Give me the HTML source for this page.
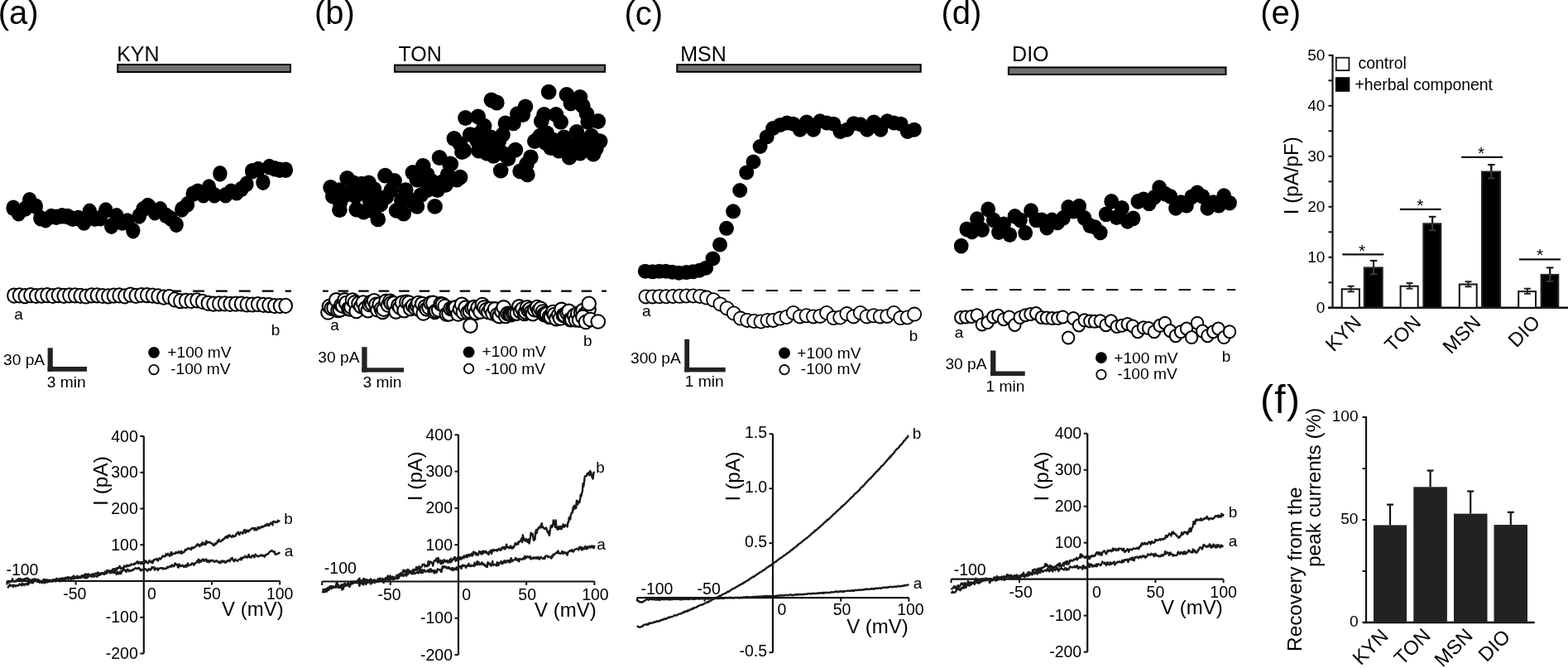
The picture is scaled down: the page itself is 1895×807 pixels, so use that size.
<!DOCTYPE html>
<html><head><meta charset="utf-8"><title>Figure</title>
<style>html,body{margin:0;padding:0;background:#fff;overflow:hidden}svg{display:block}</style>
</head><body>
<svg width="1895" height="807" viewBox="0 0 1895 807" style="font-family:'Liberation Sans',Arial,sans-serif">
<rect width="1895" height="807" fill="#fff"/>
<g fill="#000">
<text x="-2.3" y="29.0" font-size="40" text-anchor="start">(a)</text>
<text x="380.0" y="29.0" font-size="40" text-anchor="start">(b)</text>
<text x="754.5" y="29.5" font-size="40" text-anchor="start">(c)</text>
<text x="1137.5" y="29.0" font-size="40" text-anchor="start">(d)</text>
<text x="1523.3" y="29.0" font-size="40" text-anchor="start">(e)</text>
<text x="1523.0" y="498.7" font-size="48" text-anchor="start" letter-spacing="1.3">(f)</text>
<rect x="142.3" y="78.0" width="208.7" height="9.0" fill="#707070" stroke="#000" stroke-width="2"/>
<text x="141.2" y="73.8" font-size="25" text-anchor="start">KYN</text>
<rect x="477.0" y="78.6" width="254.0" height="8.2" fill="#707070" stroke="#000" stroke-width="2"/>
<text x="481.5" y="74.0" font-size="25" text-anchor="start">TON</text>
<rect x="818.3" y="78.1" width="294.4" height="8.7" fill="#707070" stroke="#000" stroke-width="2"/>
<text x="822.2" y="74.1" font-size="25" text-anchor="start">MSN</text>
<rect x="1218.9" y="81.4" width="262.6" height="8.6" fill="#707070" stroke="#000" stroke-width="2"/>
<text x="1223.1" y="74.1" font-size="25" text-anchor="start">DIO</text>
<line x1="9.8" y1="351.6" x2="352.0" y2="351.6" stroke="#000" stroke-width="2.2" stroke-dasharray="13.9,14.0" stroke-dashoffset="0"/>
<line x1="390.0" y1="351.7" x2="733.0" y2="351.7" stroke="#000" stroke-width="2.2" stroke-dasharray="12.5,12.0" stroke-dashoffset="5.8"/>
<line x1="780.6" y1="351.0" x2="1112.0" y2="351.0" stroke="#000" stroke-width="2.2" stroke-dasharray="14.4,14.6" stroke-dashoffset="0"/>
<line x1="1161.7" y1="350.0" x2="1493.2" y2="350.0" stroke="#000" stroke-width="2.2" stroke-dasharray="14.5,14.7" stroke-dashoffset="0"/>
<g fill="#000"><ellipse cx="16.1" cy="251.3" rx="8.7" ry="9.8"/><ellipse cx="22.5" cy="257.7" rx="8.7" ry="9.8"/><ellipse cx="30.7" cy="252.0" rx="8.7" ry="9.8"/><ellipse cx="35.7" cy="241.8" rx="8.7" ry="9.8"/><ellipse cx="43.3" cy="249.3" rx="8.7" ry="9.8"/><ellipse cx="48.8" cy="263.6" rx="8.7" ry="9.8"/><ellipse cx="55.2" cy="265.6" rx="8.7" ry="9.8"/><ellipse cx="62.0" cy="261.5" rx="8.7" ry="9.8"/><ellipse cx="68.1" cy="262.2" rx="8.7" ry="9.8"/><ellipse cx="74.9" cy="260.9" rx="8.7" ry="9.8"/><ellipse cx="81.8" cy="261.5" rx="8.7" ry="9.8"/><ellipse cx="87.9" cy="264.3" rx="8.7" ry="9.8"/><ellipse cx="94.7" cy="263.6" rx="8.7" ry="9.8"/><ellipse cx="101.5" cy="269.0" rx="8.7" ry="9.8"/><ellipse cx="108.3" cy="255.4" rx="8.7" ry="9.8"/><ellipse cx="114.5" cy="264.3" rx="8.7" ry="9.8"/><ellipse cx="121.3" cy="263.6" rx="8.7" ry="9.8"/><ellipse cx="127.8" cy="254.0" rx="8.7" ry="9.8"/><ellipse cx="134.6" cy="273.1" rx="8.7" ry="9.8"/><ellipse cx="141.0" cy="260.9" rx="8.7" ry="9.8"/><ellipse cx="147.8" cy="269.0" rx="8.7" ry="9.8"/><ellipse cx="154.0" cy="267.0" rx="8.7" ry="9.8"/><ellipse cx="160.8" cy="278.6" rx="8.7" ry="9.8"/><ellipse cx="168.3" cy="260.9" rx="8.7" ry="9.8"/><ellipse cx="173.0" cy="252.7" rx="8.7" ry="9.8"/><ellipse cx="178.5" cy="248.6" rx="8.7" ry="9.8"/><ellipse cx="180.4" cy="249.9" rx="8.7" ry="9.8"/><ellipse cx="187.1" cy="256.6" rx="8.7" ry="9.8"/><ellipse cx="193.8" cy="252.9" rx="8.7" ry="9.8"/><ellipse cx="200.5" cy="260.3" rx="8.7" ry="9.8"/><ellipse cx="206.4" cy="264.0" rx="8.7" ry="9.8"/><ellipse cx="213.1" cy="271.4" rx="8.7" ry="9.8"/><ellipse cx="219.8" cy="252.9" rx="8.7" ry="9.8"/><ellipse cx="226.5" cy="246.9" rx="8.7" ry="9.8"/><ellipse cx="233.2" cy="234.3" rx="8.7" ry="9.8"/><ellipse cx="239.1" cy="231.3" rx="8.7" ry="9.8"/><ellipse cx="245.8" cy="235.8" rx="8.7" ry="9.8"/><ellipse cx="252.5" cy="226.1" rx="8.7" ry="9.8"/><ellipse cx="259.2" cy="235.8" rx="8.7" ry="9.8"/><ellipse cx="265.9" cy="209.7" rx="8.7" ry="9.8"/><ellipse cx="272.6" cy="235.8" rx="8.7" ry="9.8"/><ellipse cx="279.3" cy="231.3" rx="8.7" ry="9.8"/><ellipse cx="286.0" cy="232.8" rx="8.7" ry="9.8"/><ellipse cx="291.9" cy="228.3" rx="8.7" ry="9.8"/><ellipse cx="297.9" cy="222.4" rx="8.7" ry="9.8"/><ellipse cx="304.6" cy="206.8" rx="8.7" ry="9.8"/><ellipse cx="312.0" cy="204.5" rx="8.7" ry="9.8"/><ellipse cx="317.9" cy="220.1" rx="8.7" ry="9.8"/><ellipse cx="325.4" cy="201.6" rx="8.7" ry="9.8"/><ellipse cx="332.1" cy="203.8" rx="8.7" ry="9.8"/><ellipse cx="338.0" cy="205.3" rx="8.7" ry="9.8"/><ellipse cx="345.4" cy="205.3" rx="8.7" ry="9.8"/></g>
<g fill="#000"><ellipse cx="399.6" cy="226.5" rx="9.3" ry="9.4"/><ellipse cx="419.6" cy="215.3" rx="9.3" ry="9.4"/><ellipse cx="410.4" cy="253.7" rx="9.3" ry="9.4"/><ellipse cx="402.3" cy="237.0" rx="9.3" ry="9.4"/><ellipse cx="437.0" cy="222.1" rx="9.3" ry="9.4"/><ellipse cx="445.7" cy="220.9" rx="9.3" ry="9.4"/><ellipse cx="451.9" cy="228.3" rx="9.3" ry="9.4"/><ellipse cx="430.8" cy="253.1" rx="9.3" ry="9.4"/><ellipse cx="439.5" cy="256.2" rx="9.3" ry="9.4"/><ellipse cx="456.8" cy="264.9" rx="9.3" ry="9.4"/><ellipse cx="465.5" cy="212.2" rx="9.3" ry="9.4"/><ellipse cx="476.6" cy="218.4" rx="9.3" ry="9.4"/><ellipse cx="459.9" cy="246.9" rx="9.3" ry="9.4"/><ellipse cx="472.9" cy="229.6" rx="9.3" ry="9.4"/><ellipse cx="479.1" cy="254.3" rx="9.3" ry="9.4"/><ellipse cx="487.8" cy="258.0" rx="9.3" ry="9.4"/><ellipse cx="490.3" cy="229.6" rx="9.3" ry="9.4"/><ellipse cx="498.9" cy="208.5" rx="9.3" ry="9.4"/><ellipse cx="511.3" cy="200.4" rx="9.3" ry="9.4"/><ellipse cx="503.9" cy="249.4" rx="9.3" ry="9.4"/><ellipse cx="508.8" cy="235.7" rx="9.3" ry="9.4"/><ellipse cx="525.6" cy="249.4" rx="9.3" ry="9.4"/><ellipse cx="521.2" cy="218.4" rx="9.3" ry="9.4"/><ellipse cx="531.1" cy="190.5" rx="9.3" ry="9.4"/><ellipse cx="543.5" cy="198.0" rx="9.3" ry="9.4"/><ellipse cx="534.9" cy="219.6" rx="9.3" ry="9.4"/><ellipse cx="538.6" cy="223.4" rx="9.3" ry="9.4"/><ellipse cx="552.2" cy="217.2" rx="9.3" ry="9.4"/><ellipse cx="528.7" cy="229.6" rx="9.3" ry="9.4"/><ellipse cx="558.4" cy="183.7" rx="9.3" ry="9.4"/><ellipse cx="417.2" cy="235.7" rx="9.3" ry="9.4"/><ellipse cx="411.0" cy="244.4" rx="9.3" ry="9.4"/><ellipse cx="429.6" cy="237.0" rx="9.3" ry="9.4"/><ellipse cx="446.9" cy="241.9" rx="9.3" ry="9.4"/><ellipse cx="449.4" cy="254.3" rx="9.3" ry="9.4"/><ellipse cx="466.7" cy="238.2" rx="9.3" ry="9.4"/><ellipse cx="496.5" cy="241.9" rx="9.3" ry="9.4"/><ellipse cx="516.3" cy="229.6" rx="9.3" ry="9.4"/><ellipse cx="485.3" cy="241.9" rx="9.3" ry="9.4"/><ellipse cx="593.9" cy="120.8" rx="9.3" ry="9.4"/><ellipse cx="600.4" cy="124.0" rx="9.3" ry="9.4"/><ellipse cx="663.2" cy="111.1" rx="9.3" ry="9.4"/><ellipse cx="684.9" cy="114.3" rx="9.3" ry="9.4"/><ellipse cx="701.0" cy="117.5" rx="9.3" ry="9.4"/><ellipse cx="689.8" cy="124.8" rx="9.3" ry="9.4"/><ellipse cx="704.3" cy="128.0" rx="9.3" ry="9.4"/><ellipse cx="709.1" cy="137.7" rx="9.3" ry="9.4"/><ellipse cx="722.8" cy="146.5" rx="9.3" ry="9.4"/><ellipse cx="710.7" cy="147.3" rx="9.3" ry="9.4"/><ellipse cx="635.0" cy="128.8" rx="9.3" ry="9.4"/><ellipse cx="625.3" cy="137.7" rx="9.3" ry="9.4"/><ellipse cx="631.8" cy="138.5" rx="9.3" ry="9.4"/><ellipse cx="620.5" cy="148.9" rx="9.3" ry="9.4"/><ellipse cx="610.9" cy="148.9" rx="9.3" ry="9.4"/><ellipse cx="607.6" cy="162.6" rx="9.3" ry="9.4"/><ellipse cx="562.5" cy="142.5" rx="9.3" ry="9.4"/><ellipse cx="577.8" cy="140.9" rx="9.3" ry="9.4"/><ellipse cx="585.1" cy="152.2" rx="9.3" ry="9.4"/><ellipse cx="568.2" cy="162.6" rx="9.3" ry="9.4"/><ellipse cx="548.9" cy="167.5" rx="9.3" ry="9.4"/><ellipse cx="560.9" cy="182.0" rx="9.3" ry="9.4"/><ellipse cx="577.0" cy="170.7" rx="9.3" ry="9.4"/><ellipse cx="589.9" cy="173.9" rx="9.3" ry="9.4"/><ellipse cx="601.2" cy="178.7" rx="9.3" ry="9.4"/><ellipse cx="596.4" cy="188.4" rx="9.3" ry="9.4"/><ellipse cx="605.2" cy="206.1" rx="9.3" ry="9.4"/><ellipse cx="614.1" cy="191.6" rx="9.3" ry="9.4"/><ellipse cx="622.9" cy="181.2" rx="9.3" ry="9.4"/><ellipse cx="641.4" cy="190.0" rx="9.3" ry="9.4"/><ellipse cx="628.6" cy="206.9" rx="9.3" ry="9.4"/><ellipse cx="637.4" cy="210.9" rx="9.3" ry="9.4"/><ellipse cx="646.3" cy="170.7" rx="9.3" ry="9.4"/><ellipse cx="657.6" cy="138.5" rx="9.3" ry="9.4"/><ellipse cx="654.3" cy="146.5" rx="9.3" ry="9.4"/><ellipse cx="672.0" cy="138.5" rx="9.3" ry="9.4"/><ellipse cx="677.7" cy="147.3" rx="9.3" ry="9.4"/><ellipse cx="660.8" cy="161.0" rx="9.3" ry="9.4"/><ellipse cx="659.2" cy="172.3" rx="9.3" ry="9.4"/><ellipse cx="668.8" cy="169.1" rx="9.3" ry="9.4"/><ellipse cx="675.3" cy="182.0" rx="9.3" ry="9.4"/><ellipse cx="688.1" cy="190.0" rx="9.3" ry="9.4"/><ellipse cx="681.7" cy="165.9" rx="9.3" ry="9.4"/><ellipse cx="697.0" cy="159.4" rx="9.3" ry="9.4"/><ellipse cx="694.6" cy="175.5" rx="9.3" ry="9.4"/><ellipse cx="705.9" cy="180.3" rx="9.3" ry="9.4"/><ellipse cx="714.7" cy="164.2" rx="9.3" ry="9.4"/><ellipse cx="717.1" cy="186.0" rx="9.3" ry="9.4"/><ellipse cx="720.4" cy="179.5" rx="9.3" ry="9.4"/><ellipse cx="544.8" cy="198.1" rx="9.3" ry="9.4"/><ellipse cx="556.1" cy="214.2" rx="9.3" ry="9.4"/><ellipse cx="556.1" cy="173.9" rx="9.3" ry="9.4"/><ellipse cx="580.3" cy="161.0" rx="9.3" ry="9.4"/><ellipse cx="593.1" cy="165.9" rx="9.3" ry="9.4"/><ellipse cx="578.6" cy="182.0" rx="9.3" ry="9.4"/><ellipse cx="588.3" cy="185.2" rx="9.3" ry="9.4"/><ellipse cx="607.6" cy="185.2" rx="9.3" ry="9.4"/><ellipse cx="602.8" cy="170.7" rx="9.3" ry="9.4"/><ellipse cx="652.7" cy="164.2" rx="9.3" ry="9.4"/><ellipse cx="665.6" cy="178.7" rx="9.3" ry="9.4"/><ellipse cx="678.5" cy="173.9" rx="9.3" ry="9.4"/><ellipse cx="689.8" cy="180.3" rx="9.3" ry="9.4"/><ellipse cx="701.0" cy="170.7" rx="9.3" ry="9.4"/><ellipse cx="710.7" cy="172.3" rx="9.3" ry="9.4"/><ellipse cx="701.0" cy="185.2" rx="9.3" ry="9.4"/><ellipse cx="725.2" cy="170.7" rx="9.3" ry="9.4"/><ellipse cx="503.9" cy="217.2" rx="9.3" ry="9.4"/><ellipse cx="516.3" cy="211.0" rx="9.3" ry="9.4"/><ellipse cx="541.1" cy="211.0" rx="9.3" ry="9.4"/><ellipse cx="449.4" cy="234.5" rx="9.3" ry="9.4"/><ellipse cx="439.5" cy="233.3" rx="9.3" ry="9.4"/><ellipse cx="456.8" cy="238.2" rx="9.3" ry="9.4"/><ellipse cx="409.7" cy="229.6" rx="9.3" ry="9.4"/><ellipse cx="427.1" cy="220.9" rx="9.3" ry="9.4"/><ellipse cx="423.4" cy="232.0" rx="9.3" ry="9.4"/><ellipse cx="636.6" cy="198.1" rx="9.3" ry="9.4"/></g>
<g fill="#000"><ellipse cx="779.8" cy="327.7" rx="9" ry="9"/><ellipse cx="788.7" cy="328.3" rx="9" ry="9"/><ellipse cx="796.7" cy="327.7" rx="9" ry="9"/><ellipse cx="804.6" cy="327.7" rx="9" ry="9"/><ellipse cx="812.5" cy="328.7" rx="9" ry="9"/><ellipse cx="820.5" cy="329.7" rx="9" ry="9"/><ellipse cx="829.4" cy="329.1" rx="9" ry="9"/><ellipse cx="837.3" cy="328.3" rx="9" ry="9"/><ellipse cx="845.2" cy="326.7" rx="9" ry="9"/><ellipse cx="853.2" cy="323.7" rx="9" ry="9"/><ellipse cx="861.5" cy="312.4" rx="9" ry="9"/><ellipse cx="870.0" cy="295.6" rx="9" ry="9"/><ellipse cx="878.0" cy="275.8" rx="9" ry="9"/><ellipse cx="886.1" cy="255.3" rx="9" ry="9"/><ellipse cx="894.2" cy="230.0" rx="9" ry="9"/><ellipse cx="902.2" cy="208.4" rx="9" ry="9"/><ellipse cx="910.5" cy="195.5" rx="9" ry="9"/><ellipse cx="918.6" cy="177.0" rx="9" ry="9"/><ellipse cx="926.7" cy="165.4" rx="9" ry="9"/><ellipse cx="934.2" cy="155.0" rx="9" ry="9"/><ellipse cx="943.0" cy="150.9" rx="9" ry="9"/><ellipse cx="951.1" cy="148.6" rx="9" ry="9"/><ellipse cx="958.6" cy="149.7" rx="9" ry="9"/><ellipse cx="966.8" cy="156.7" rx="9" ry="9"/><ellipse cx="974.9" cy="147.4" rx="9" ry="9"/><ellipse cx="983.0" cy="156.7" rx="9" ry="9"/><ellipse cx="991.1" cy="146.3" rx="9" ry="9"/><ellipse cx="999.3" cy="148.6" rx="9" ry="9"/><ellipse cx="1007.4" cy="149.7" rx="9" ry="9"/><ellipse cx="1015.5" cy="159.0" rx="9" ry="9"/><ellipse cx="1023.6" cy="156.7" rx="9" ry="9"/><ellipse cx="1031.8" cy="149.2" rx="9" ry="9"/><ellipse cx="1039.9" cy="150.3" rx="9" ry="9"/><ellipse cx="1048.0" cy="156.7" rx="9" ry="9"/><ellipse cx="1056.1" cy="147.4" rx="9" ry="9"/><ellipse cx="1064.3" cy="156.7" rx="9" ry="9"/><ellipse cx="1072.4" cy="146.3" rx="9" ry="9"/><ellipse cx="1080.5" cy="148.6" rx="9" ry="9"/><ellipse cx="1088.6" cy="149.7" rx="9" ry="9"/><ellipse cx="1096.8" cy="159.0" rx="9" ry="9"/><ellipse cx="1104.9" cy="156.7" rx="9" ry="9"/></g>
<g fill="#000"><ellipse cx="1161.7" cy="297.1" rx="8.85" ry="9.3"/><ellipse cx="1168.3" cy="276.9" rx="8.85" ry="9.3"/><ellipse cx="1174.7" cy="280.0" rx="8.85" ry="9.3"/><ellipse cx="1180.9" cy="264.5" rx="8.85" ry="9.3"/><ellipse cx="1187.1" cy="277.6" rx="8.85" ry="9.3"/><ellipse cx="1194.2" cy="252.8" rx="8.85" ry="9.3"/><ellipse cx="1200.7" cy="265.8" rx="8.85" ry="9.3"/><ellipse cx="1206.9" cy="280.6" rx="8.85" ry="9.3"/><ellipse cx="1213.1" cy="270.7" rx="8.85" ry="9.3"/><ellipse cx="1220.3" cy="283.7" rx="8.85" ry="9.3"/><ellipse cx="1226.5" cy="261.4" rx="8.85" ry="9.3"/><ellipse cx="1233.0" cy="265.8" rx="8.85" ry="9.3"/><ellipse cx="1239.2" cy="281.3" rx="8.85" ry="9.3"/><ellipse cx="1246.0" cy="254.6" rx="8.85" ry="9.3"/><ellipse cx="1252.2" cy="265.8" rx="8.85" ry="9.3"/><ellipse cx="1259.0" cy="265.8" rx="8.85" ry="9.3"/><ellipse cx="1265.2" cy="275.1" rx="8.85" ry="9.3"/><ellipse cx="1271.4" cy="265.8" rx="8.85" ry="9.3"/><ellipse cx="1278.2" cy="268.9" rx="8.85" ry="9.3"/><ellipse cx="1285.0" cy="263.3" rx="8.85" ry="9.3"/><ellipse cx="1291.2" cy="250.3" rx="8.85" ry="9.3"/><ellipse cx="1297.4" cy="255.2" rx="8.85" ry="9.3"/><ellipse cx="1304.2" cy="249.0" rx="8.85" ry="9.3"/><ellipse cx="1310.4" cy="263.3" rx="8.85" ry="9.3"/><ellipse cx="1317.2" cy="272.6" rx="8.85" ry="9.3"/><ellipse cx="1323.4" cy="274.5" rx="8.85" ry="9.3"/><ellipse cx="1329.8" cy="281.0" rx="8.85" ry="9.3"/><ellipse cx="1336.7" cy="258.8" rx="8.85" ry="9.3"/><ellipse cx="1343.2" cy="243.4" rx="8.85" ry="9.3"/><ellipse cx="1349.4" cy="262.6" rx="8.85" ry="9.3"/><ellipse cx="1355.9" cy="251.4" rx="8.85" ry="9.3"/><ellipse cx="1362.7" cy="267.5" rx="8.85" ry="9.3"/><ellipse cx="1369.6" cy="263.8" rx="8.85" ry="9.3"/><ellipse cx="1375.4" cy="243.4" rx="8.85" ry="9.3"/><ellipse cx="1381.9" cy="240.9" rx="8.85" ry="9.3"/><ellipse cx="1388.8" cy="245.8" rx="8.85" ry="9.3"/><ellipse cx="1395.0" cy="238.4" rx="8.85" ry="9.3"/><ellipse cx="1401.1" cy="226.6" rx="8.85" ry="9.3"/><ellipse cx="1408.0" cy="234.1" rx="8.85" ry="9.3"/><ellipse cx="1414.2" cy="237.2" rx="8.85" ry="9.3"/><ellipse cx="1421.0" cy="251.4" rx="8.85" ry="9.3"/><ellipse cx="1427.2" cy="244.6" rx="8.85" ry="9.3"/><ellipse cx="1434.0" cy="248.3" rx="8.85" ry="9.3"/><ellipse cx="1440.2" cy="237.8" rx="8.85" ry="9.3"/><ellipse cx="1447.0" cy="232.8" rx="8.85" ry="9.3"/><ellipse cx="1453.2" cy="237.2" rx="8.85" ry="9.3"/><ellipse cx="1459.4" cy="251.4" rx="8.85" ry="9.3"/><ellipse cx="1466.2" cy="244.6" rx="8.85" ry="9.3"/><ellipse cx="1473.0" cy="248.3" rx="8.85" ry="9.3"/><ellipse cx="1479.2" cy="236.5" rx="8.85" ry="9.3"/><ellipse cx="1486.0" cy="245.2" rx="8.85" ry="9.3"/></g>
<g fill="#fff" stroke="#000" stroke-width="2"><ellipse cx="16.9" cy="357.1" rx="7.8" ry="8.6"/><ellipse cx="23.6" cy="356.8" rx="7.8" ry="8.6"/><ellipse cx="30.3" cy="357.7" rx="7.8" ry="8.6"/><ellipse cx="37.0" cy="356.7" rx="7.8" ry="8.6"/><ellipse cx="43.7" cy="357.5" rx="7.8" ry="8.6"/><ellipse cx="50.4" cy="357.2" rx="7.8" ry="8.6"/><ellipse cx="57.1" cy="356.7" rx="7.8" ry="8.6"/><ellipse cx="63.8" cy="357.5" rx="7.8" ry="8.6"/><ellipse cx="70.5" cy="356.7" rx="7.8" ry="8.6"/><ellipse cx="77.2" cy="357.4" rx="7.8" ry="8.6"/><ellipse cx="83.9" cy="356.8" rx="7.8" ry="8.6"/><ellipse cx="90.6" cy="356.8" rx="7.8" ry="8.6"/><ellipse cx="97.3" cy="357.4" rx="7.8" ry="8.6"/><ellipse cx="104.0" cy="358.0" rx="7.8" ry="8.6"/><ellipse cx="110.7" cy="356.8" rx="7.8" ry="8.6"/><ellipse cx="117.4" cy="356.9" rx="7.8" ry="8.6"/><ellipse cx="124.1" cy="357.5" rx="7.8" ry="8.6"/><ellipse cx="130.8" cy="357.9" rx="7.8" ry="8.6"/><ellipse cx="137.5" cy="357.2" rx="7.8" ry="8.6"/><ellipse cx="144.2" cy="356.9" rx="7.8" ry="8.6"/><ellipse cx="150.9" cy="357.8" rx="7.8" ry="8.6"/><ellipse cx="157.6" cy="356.2" rx="7.8" ry="8.6"/><ellipse cx="164.3" cy="357.4" rx="7.8" ry="8.6"/><ellipse cx="171.0" cy="356.5" rx="7.8" ry="8.6"/><ellipse cx="177.7" cy="356.7" rx="7.8" ry="8.6"/><ellipse cx="184.4" cy="357.1" rx="7.8" ry="8.6"/><ellipse cx="191.1" cy="357.9" rx="7.8" ry="8.6"/><ellipse cx="197.8" cy="359.1" rx="7.8" ry="8.6"/><ellipse cx="204.5" cy="358.5" rx="7.8" ry="8.6"/><ellipse cx="211.2" cy="361.9" rx="7.8" ry="8.6"/><ellipse cx="217.9" cy="363.7" rx="7.8" ry="8.6"/><ellipse cx="224.6" cy="363.3" rx="7.8" ry="8.6"/><ellipse cx="231.3" cy="363.6" rx="7.8" ry="8.6"/><ellipse cx="238.0" cy="362.8" rx="7.8" ry="8.6"/><ellipse cx="244.7" cy="364.3" rx="7.8" ry="8.6"/><ellipse cx="251.4" cy="366.3" rx="7.8" ry="8.6"/><ellipse cx="258.1" cy="367.2" rx="7.8" ry="8.6"/><ellipse cx="264.8" cy="366.9" rx="7.8" ry="8.6"/><ellipse cx="271.5" cy="366.8" rx="7.8" ry="8.6"/><ellipse cx="278.2" cy="367.3" rx="7.8" ry="8.6"/><ellipse cx="284.9" cy="367.1" rx="7.8" ry="8.6"/><ellipse cx="291.6" cy="367.0" rx="7.8" ry="8.6"/><ellipse cx="298.3" cy="367.9" rx="7.8" ry="8.6"/><ellipse cx="305.0" cy="368.0" rx="7.8" ry="8.6"/><ellipse cx="311.7" cy="367.6" rx="7.8" ry="8.6"/><ellipse cx="318.4" cy="368.4" rx="7.8" ry="8.6"/><ellipse cx="325.1" cy="368.7" rx="7.8" ry="8.6"/><ellipse cx="331.8" cy="369.6" rx="7.8" ry="8.6"/><ellipse cx="338.5" cy="369.6" rx="7.8" ry="8.6"/><ellipse cx="345.2" cy="369.3" rx="7.8" ry="8.6"/></g>
<g fill="#fff" stroke="#000" stroke-width="2.1"><ellipse cx="396.5" cy="377.5" rx="8.3" ry="8.3"/><ellipse cx="398.0" cy="370.2" rx="8.3" ry="8.3"/><ellipse cx="400.6" cy="372.6" rx="8.3" ry="8.3"/><ellipse cx="403.5" cy="371.9" rx="8.3" ry="8.3"/><ellipse cx="406.4" cy="362.4" rx="8.3" ry="8.3"/><ellipse cx="408.5" cy="374.8" rx="8.3" ry="8.3"/><ellipse cx="411.0" cy="374.3" rx="8.3" ry="8.3"/><ellipse cx="412.5" cy="368.5" rx="8.3" ry="8.3"/><ellipse cx="414.3" cy="369.6" rx="8.3" ry="8.3"/><ellipse cx="416.6" cy="362.4" rx="8.3" ry="8.3"/><ellipse cx="418.4" cy="366.1" rx="8.3" ry="8.3"/><ellipse cx="421.3" cy="372.8" rx="8.3" ry="8.3"/><ellipse cx="422.9" cy="373.3" rx="8.3" ry="8.3"/><ellipse cx="424.5" cy="370.9" rx="8.3" ry="8.3"/><ellipse cx="426.1" cy="362.5" rx="8.3" ry="8.3"/><ellipse cx="428.9" cy="365.4" rx="8.3" ry="8.3"/><ellipse cx="430.7" cy="376.0" rx="8.3" ry="8.3"/><ellipse cx="433.5" cy="366.6" rx="8.3" ry="8.3"/><ellipse cx="436.4" cy="370.1" rx="8.3" ry="8.3"/><ellipse cx="438.9" cy="365.6" rx="8.3" ry="8.3"/><ellipse cx="441.8" cy="372.3" rx="8.3" ry="8.3"/><ellipse cx="444.8" cy="375.2" rx="8.3" ry="8.3"/><ellipse cx="446.6" cy="368.0" rx="8.3" ry="8.3"/><ellipse cx="448.3" cy="365.1" rx="8.3" ry="8.3"/><ellipse cx="449.8" cy="367.2" rx="8.3" ry="8.3"/><ellipse cx="452.2" cy="363.3" rx="8.3" ry="8.3"/><ellipse cx="454.6" cy="367.9" rx="8.3" ry="8.3"/><ellipse cx="456.5" cy="374.5" rx="8.3" ry="8.3"/><ellipse cx="458.7" cy="367.7" rx="8.3" ry="8.3"/><ellipse cx="460.9" cy="373.0" rx="8.3" ry="8.3"/><ellipse cx="462.4" cy="376.8" rx="8.3" ry="8.3"/><ellipse cx="463.8" cy="373.7" rx="8.3" ry="8.3"/><ellipse cx="466.6" cy="363.9" rx="8.3" ry="8.3"/><ellipse cx="469.2" cy="368.7" rx="8.3" ry="8.3"/><ellipse cx="471.5" cy="363.9" rx="8.3" ry="8.3"/><ellipse cx="473.0" cy="366.3" rx="8.3" ry="8.3"/><ellipse cx="476.0" cy="366.6" rx="8.3" ry="8.3"/><ellipse cx="478.6" cy="376.6" rx="8.3" ry="8.3"/><ellipse cx="481.5" cy="368.8" rx="8.3" ry="8.3"/><ellipse cx="483.4" cy="371.3" rx="8.3" ry="8.3"/><ellipse cx="486.1" cy="365.7" rx="8.3" ry="8.3"/><ellipse cx="488.7" cy="375.2" rx="8.3" ry="8.3"/><ellipse cx="491.4" cy="364.9" rx="8.3" ry="8.3"/><ellipse cx="494.4" cy="365.8" rx="8.3" ry="8.3"/><ellipse cx="496.3" cy="372.9" rx="8.3" ry="8.3"/><ellipse cx="499.2" cy="369.3" rx="8.3" ry="8.3"/><ellipse cx="502.1" cy="372.2" rx="8.3" ry="8.3"/><ellipse cx="504.0" cy="369.1" rx="8.3" ry="8.3"/><ellipse cx="505.6" cy="366.0" rx="8.3" ry="8.3"/><ellipse cx="507.3" cy="374.3" rx="8.3" ry="8.3"/><ellipse cx="510.3" cy="367.2" rx="8.3" ry="8.3"/><ellipse cx="511.8" cy="378.5" rx="8.3" ry="8.3"/><ellipse cx="514.0" cy="370.7" rx="8.3" ry="8.3"/><ellipse cx="515.8" cy="373.3" rx="8.3" ry="8.3"/><ellipse cx="518.5" cy="371.5" rx="8.3" ry="8.3"/><ellipse cx="520.6" cy="366.1" rx="8.3" ry="8.3"/><ellipse cx="523.4" cy="365.9" rx="8.3" ry="8.3"/><ellipse cx="525.6" cy="377.0" rx="8.3" ry="8.3"/><ellipse cx="527.2" cy="375.6" rx="8.3" ry="8.3"/><ellipse cx="530.2" cy="374.3" rx="8.3" ry="8.3"/><ellipse cx="532.8" cy="367.2" rx="8.3" ry="8.3"/><ellipse cx="534.9" cy="367.9" rx="8.3" ry="8.3"/><ellipse cx="537.7" cy="370.0" rx="8.3" ry="8.3"/><ellipse cx="539.8" cy="379.6" rx="8.3" ry="8.3"/><ellipse cx="542.6" cy="379.4" rx="8.3" ry="8.3"/><ellipse cx="544.7" cy="372.8" rx="8.3" ry="8.3"/><ellipse cx="547.3" cy="372.8" rx="8.3" ry="8.3"/><ellipse cx="549.1" cy="371.8" rx="8.3" ry="8.3"/><ellipse cx="550.8" cy="371.5" rx="8.3" ry="8.3"/><ellipse cx="553.7" cy="379.5" rx="8.3" ry="8.3"/><ellipse cx="556.1" cy="373.4" rx="8.3" ry="8.3"/><ellipse cx="558.1" cy="367.8" rx="8.3" ry="8.3"/><ellipse cx="559.9" cy="377.3" rx="8.3" ry="8.3"/><ellipse cx="562.7" cy="371.7" rx="8.3" ry="8.3"/><ellipse cx="565.4" cy="377.5" rx="8.3" ry="8.3"/><ellipse cx="567.9" cy="376.1" rx="8.3" ry="8.3"/><ellipse cx="568.4" cy="393.6" rx="8.3" ry="8.3"/><ellipse cx="570.5" cy="372.2" rx="8.3" ry="8.3"/><ellipse cx="573.0" cy="371.2" rx="8.3" ry="8.3"/><ellipse cx="575.2" cy="377.9" rx="8.3" ry="8.3"/><ellipse cx="577.7" cy="371.6" rx="8.3" ry="8.3"/><ellipse cx="580.6" cy="376.6" rx="8.3" ry="8.3"/><ellipse cx="582.9" cy="368.0" rx="8.3" ry="8.3"/><ellipse cx="585.2" cy="371.4" rx="8.3" ry="8.3"/><ellipse cx="587.7" cy="374.4" rx="8.3" ry="8.3"/><ellipse cx="590.4" cy="377.0" rx="8.3" ry="8.3"/><ellipse cx="593.1" cy="373.1" rx="8.3" ry="8.3"/><ellipse cx="595.5" cy="378.5" rx="8.3" ry="8.3"/><ellipse cx="598.2" cy="373.4" rx="8.3" ry="8.3"/><ellipse cx="601.0" cy="380.6" rx="8.3" ry="8.3"/><ellipse cx="603.5" cy="382.1" rx="8.3" ry="8.3"/><ellipse cx="606.4" cy="376.1" rx="8.3" ry="8.3"/><ellipse cx="608.7" cy="371.4" rx="8.3" ry="8.3"/><ellipse cx="611.4" cy="382.0" rx="8.3" ry="8.3"/><ellipse cx="613.6" cy="378.8" rx="8.3" ry="8.3"/><ellipse cx="616.1" cy="379.4" rx="8.3" ry="8.3"/><ellipse cx="617.8" cy="380.2" rx="8.3" ry="8.3"/><ellipse cx="620.1" cy="378.8" rx="8.3" ry="8.3"/><ellipse cx="622.2" cy="378.3" rx="8.3" ry="8.3"/><ellipse cx="624.8" cy="378.6" rx="8.3" ry="8.3"/><ellipse cx="627.4" cy="370.4" rx="8.3" ry="8.3"/><ellipse cx="629.0" cy="376.2" rx="8.3" ry="8.3"/><ellipse cx="631.5" cy="373.3" rx="8.3" ry="8.3"/><ellipse cx="634.0" cy="379.0" rx="8.3" ry="8.3"/><ellipse cx="635.4" cy="376.9" rx="8.3" ry="8.3"/><ellipse cx="637.2" cy="371.3" rx="8.3" ry="8.3"/><ellipse cx="638.8" cy="375.0" rx="8.3" ry="8.3"/><ellipse cx="640.5" cy="373.4" rx="8.3" ry="8.3"/><ellipse cx="642.0" cy="377.1" rx="8.3" ry="8.3"/><ellipse cx="644.0" cy="379.2" rx="8.3" ry="8.3"/><ellipse cx="646.3" cy="374.2" rx="8.3" ry="8.3"/><ellipse cx="649.2" cy="371.1" rx="8.3" ry="8.3"/><ellipse cx="651.2" cy="375.0" rx="8.3" ry="8.3"/><ellipse cx="653.3" cy="372.8" rx="8.3" ry="8.3"/><ellipse cx="656.0" cy="376.5" rx="8.3" ry="8.3"/><ellipse cx="657.5" cy="379.8" rx="8.3" ry="8.3"/><ellipse cx="659.0" cy="378.9" rx="8.3" ry="8.3"/><ellipse cx="660.9" cy="379.5" rx="8.3" ry="8.3"/><ellipse cx="663.9" cy="382.9" rx="8.3" ry="8.3"/><ellipse cx="666.0" cy="382.9" rx="8.3" ry="8.3"/><ellipse cx="668.4" cy="377.0" rx="8.3" ry="8.3"/><ellipse cx="670.0" cy="380.1" rx="8.3" ry="8.3"/><ellipse cx="672.3" cy="385.1" rx="8.3" ry="8.3"/><ellipse cx="675.3" cy="380.5" rx="8.3" ry="8.3"/><ellipse cx="677.2" cy="384.5" rx="8.3" ry="8.3"/><ellipse cx="678.6" cy="373.9" rx="8.3" ry="8.3"/><ellipse cx="680.9" cy="380.9" rx="8.3" ry="8.3"/><ellipse cx="682.6" cy="381.1" rx="8.3" ry="8.3"/><ellipse cx="685.4" cy="377.8" rx="8.3" ry="8.3"/><ellipse cx="687.5" cy="375.9" rx="8.3" ry="8.3"/><ellipse cx="689.3" cy="386.1" rx="8.3" ry="8.3"/><ellipse cx="691.3" cy="386.0" rx="8.3" ry="8.3"/><ellipse cx="694.2" cy="381.2" rx="8.3" ry="8.3"/><ellipse cx="696.0" cy="386.5" rx="8.3" ry="8.3"/><ellipse cx="698.2" cy="378.9" rx="8.3" ry="8.3"/><ellipse cx="700.1" cy="386.7" rx="8.3" ry="8.3"/><ellipse cx="702.3" cy="377.3" rx="8.3" ry="8.3"/><ellipse cx="704.5" cy="375.2" rx="8.3" ry="8.3"/><ellipse cx="706.9" cy="379.7" rx="8.3" ry="8.3"/><ellipse cx="708.7" cy="384.3" rx="8.3" ry="8.3"/><ellipse cx="711.5" cy="374.0" rx="8.3" ry="8.3"/><ellipse cx="704.5" cy="383.0" rx="8.3" ry="8.3"/><ellipse cx="708.0" cy="389.0" rx="8.3" ry="8.3"/><ellipse cx="713.5" cy="386.0" rx="8.3" ry="8.3"/><ellipse cx="711.7" cy="366.8" rx="8.3" ry="8.3"/><ellipse cx="722.8" cy="388.5" rx="8.3" ry="8.3"/></g>
<g fill="#fff" stroke="#000" stroke-width="1.8"><ellipse cx="780.6" cy="358.4" rx="8.1" ry="8.1"/><ellipse cx="788.8" cy="358.4" rx="8.1" ry="8.1"/><ellipse cx="797.0" cy="358.2" rx="8.1" ry="8.1"/><ellipse cx="805.1" cy="358.2" rx="8.1" ry="8.1"/><ellipse cx="813.3" cy="358.0" rx="8.1" ry="8.1"/><ellipse cx="821.5" cy="357.8" rx="8.1" ry="8.1"/><ellipse cx="829.6" cy="357.5" rx="8.1" ry="8.1"/><ellipse cx="837.8" cy="357.5" rx="8.1" ry="8.1"/><ellipse cx="846.0" cy="358.0" rx="8.1" ry="8.1"/><ellipse cx="854.1" cy="359.6" rx="8.1" ry="8.1"/><ellipse cx="862.3" cy="362.3" rx="8.1" ry="8.1"/><ellipse cx="870.5" cy="367.4" rx="8.1" ry="8.1"/><ellipse cx="878.6" cy="372.4" rx="8.1" ry="8.1"/><ellipse cx="886.8" cy="378.5" rx="8.1" ry="8.1"/><ellipse cx="895.0" cy="384.6" rx="8.1" ry="8.1"/><ellipse cx="903.1" cy="386.9" rx="8.1" ry="8.1"/><ellipse cx="911.3" cy="388.0" rx="8.1" ry="8.1"/><ellipse cx="919.5" cy="388.5" rx="8.1" ry="8.1"/><ellipse cx="927.6" cy="386.9" rx="8.1" ry="8.1"/><ellipse cx="934.5" cy="386.9" rx="8.1" ry="8.1"/><ellipse cx="942.8" cy="384.6" rx="8.1" ry="8.1"/><ellipse cx="950.6" cy="383.0" rx="8.1" ry="8.1"/><ellipse cx="958.8" cy="378.0" rx="8.1" ry="8.1"/><ellipse cx="966.8" cy="382.4" rx="8.1" ry="8.1"/><ellipse cx="974.6" cy="381.3" rx="8.1" ry="8.1"/><ellipse cx="983.0" cy="382.4" rx="8.1" ry="8.1"/><ellipse cx="991.1" cy="381.9" rx="8.1" ry="8.1"/><ellipse cx="999.1" cy="378.0" rx="8.1" ry="8.1"/><ellipse cx="1007.5" cy="384.1" rx="8.1" ry="8.1"/><ellipse cx="1015.3" cy="383.5" rx="8.1" ry="8.1"/><ellipse cx="1023.4" cy="379.1" rx="8.1" ry="8.1"/><ellipse cx="1031.5" cy="382.4" rx="8.1" ry="8.1"/><ellipse cx="1039.8" cy="378.0" rx="8.1" ry="8.1"/><ellipse cx="1047.6" cy="382.4" rx="8.1" ry="8.1"/><ellipse cx="1055.8" cy="381.3" rx="8.1" ry="8.1"/><ellipse cx="1063.8" cy="382.4" rx="8.1" ry="8.1"/><ellipse cx="1072.2" cy="381.9" rx="8.1" ry="8.1"/><ellipse cx="1080.3" cy="378.0" rx="8.1" ry="8.1"/><ellipse cx="1088.3" cy="384.1" rx="8.1" ry="8.1"/><ellipse cx="1096.7" cy="383.5" rx="8.1" ry="8.1"/><ellipse cx="1105.1" cy="379.6" rx="8.1" ry="8.1"/></g>
<g fill="#fff" stroke="#000" stroke-width="2.0"><ellipse cx="1161.2" cy="383.5" rx="7.2" ry="7.5"/><ellipse cx="1167.3" cy="382.9" rx="7.2" ry="7.5"/><ellipse cx="1174.0" cy="382.4" rx="7.2" ry="7.5"/><ellipse cx="1180.7" cy="380.7" rx="7.2" ry="7.5"/><ellipse cx="1186.8" cy="391.9" rx="7.2" ry="7.5"/><ellipse cx="1193.5" cy="389.6" rx="7.2" ry="7.5"/><ellipse cx="1200.2" cy="382.9" rx="7.2" ry="7.5"/><ellipse cx="1206.4" cy="381.3" rx="7.2" ry="7.5"/><ellipse cx="1213.0" cy="385.7" rx="7.2" ry="7.5"/><ellipse cx="1219.7" cy="382.9" rx="7.2" ry="7.5"/><ellipse cx="1226.4" cy="392.4" rx="7.2" ry="7.5"/><ellipse cx="1232.6" cy="383.5" rx="7.2" ry="7.5"/><ellipse cx="1239.3" cy="380.7" rx="7.2" ry="7.5"/><ellipse cx="1245.4" cy="379.6" rx="7.2" ry="7.5"/><ellipse cx="1252.1" cy="378.5" rx="7.2" ry="7.5"/><ellipse cx="1258.8" cy="383.5" rx="7.2" ry="7.5"/><ellipse cx="1264.9" cy="384.0" rx="7.2" ry="7.5"/><ellipse cx="1271.6" cy="384.6" rx="7.2" ry="7.5"/><ellipse cx="1278.3" cy="384.6" rx="7.2" ry="7.5"/><ellipse cx="1284.4" cy="382.9" rx="7.2" ry="7.5"/><ellipse cx="1291.1" cy="408.0" rx="7.2" ry="7.5"/><ellipse cx="1297.2" cy="384.6" rx="7.2" ry="7.5"/><ellipse cx="1303.9" cy="393.0" rx="7.2" ry="7.5"/><ellipse cx="1310.6" cy="386.8" rx="7.2" ry="7.5"/><ellipse cx="1317.3" cy="388.0" rx="7.2" ry="7.5"/><ellipse cx="1323.0" cy="388.3" rx="7.2" ry="7.5"/><ellipse cx="1329.8" cy="387.7" rx="7.2" ry="7.5"/><ellipse cx="1336.6" cy="392.7" rx="7.2" ry="7.5"/><ellipse cx="1342.8" cy="387.7" rx="7.2" ry="7.5"/><ellipse cx="1349.7" cy="394.5" rx="7.2" ry="7.5"/><ellipse cx="1355.9" cy="393.3" rx="7.2" ry="7.5"/><ellipse cx="1362.7" cy="391.4" rx="7.2" ry="7.5"/><ellipse cx="1368.9" cy="393.9" rx="7.2" ry="7.5"/><ellipse cx="1375.1" cy="400.7" rx="7.2" ry="7.5"/><ellipse cx="1381.9" cy="395.8" rx="7.2" ry="7.5"/><ellipse cx="1388.1" cy="396.4" rx="7.2" ry="7.5"/><ellipse cx="1394.9" cy="400.7" rx="7.2" ry="7.5"/><ellipse cx="1401.7" cy="393.3" rx="7.2" ry="7.5"/><ellipse cx="1407.9" cy="390.2" rx="7.2" ry="7.5"/><ellipse cx="1414.1" cy="399.5" rx="7.2" ry="7.5"/><ellipse cx="1420.9" cy="405.7" rx="7.2" ry="7.5"/><ellipse cx="1427.1" cy="400.7" rx="7.2" ry="7.5"/><ellipse cx="1434.0" cy="397.0" rx="7.2" ry="7.5"/><ellipse cx="1440.1" cy="407.6" rx="7.2" ry="7.5"/><ellipse cx="1447.0" cy="390.2" rx="7.2" ry="7.5"/><ellipse cx="1453.2" cy="400.1" rx="7.2" ry="7.5"/><ellipse cx="1459.4" cy="405.7" rx="7.2" ry="7.5"/><ellipse cx="1466.2" cy="400.7" rx="7.2" ry="7.5"/><ellipse cx="1472.4" cy="397.0" rx="7.2" ry="7.5"/><ellipse cx="1479.2" cy="407.6" rx="7.2" ry="7.5"/><ellipse cx="1486.0" cy="400.7" rx="7.2" ry="7.5"/></g>
<rect x="57.6" y="420.3" width="6.2" height="28.5" fill="#222"/>
<rect x="57.6" y="443.0" width="47.4" height="5.8" fill="#222"/>
<rect x="437.3" y="419.2" width="6.3" height="30.4" fill="#222"/>
<rect x="437.3" y="444.3" width="50.7" height="5.3" fill="#222"/>
<rect x="827.3" y="409.8" width="5.8" height="39.6" fill="#222"/>
<rect x="827.3" y="443.9" width="49.4" height="5.5" fill="#222"/>
<rect x="1197.1" y="423.5" width="6.3" height="30.5" fill="#222"/>
<rect x="1197.1" y="448.5" width="41.6" height="5.5" fill="#222"/>
<text x="4.0" y="440.5" font-size="19.2" text-anchor="start">30 pA</text>
<text x="56.8" y="467.6" font-size="19.2" text-anchor="start">3 min</text>
<text x="384.3" y="438.2" font-size="19.2" text-anchor="start">30 pA</text>
<text x="438.6" y="467.5" font-size="19.2" text-anchor="start">3 min</text>
<text x="762.0" y="438.8" font-size="19.2" text-anchor="start">300 pA</text>
<text x="827.7" y="467.3" font-size="19.2" text-anchor="start">1 min</text>
<text x="1142.4" y="446.1" font-size="19.2" text-anchor="start">30 pA</text>
<text x="1191.6" y="472.5" font-size="19.2" text-anchor="start">1 min</text>
<circle cx="186" cy="425.8" r="6.9" fill="#000"/>
<circle cx="186" cy="446.6" r="5.7" fill="#fff" stroke="#000" stroke-width="1.8"/>
<text x="202.3" y="432.2" font-size="19.2" text-anchor="start">+100 mV</text>
<text x="206.1" y="452.2" font-size="19.2" text-anchor="start">-100 mV</text>
<circle cx="566.6" cy="425.4" r="6.9" fill="#000"/>
<circle cx="566.6" cy="445.4" r="5.7" fill="#fff" stroke="#000" stroke-width="1.8"/>
<text x="582.5" y="431.1" font-size="19.2" text-anchor="start">+100 mV</text>
<text x="586.6" y="451.7" font-size="19.2" text-anchor="start">-100 mV</text>
<circle cx="948" cy="426.5" r="6.9" fill="#000"/>
<circle cx="948" cy="446.7" r="5.7" fill="#fff" stroke="#000" stroke-width="1.8"/>
<text x="963.3" y="432.5" font-size="19.2" text-anchor="start">+100 mV</text>
<text x="967.8" y="451.8" font-size="19.2" text-anchor="start">-100 mV</text>
<circle cx="1330.9" cy="432.2" r="6.9" fill="#000"/>
<circle cx="1330.9" cy="452.5" r="5.7" fill="#fff" stroke="#000" stroke-width="1.8"/>
<text x="1346.2" y="439.0" font-size="19.2" text-anchor="start">+100 mV</text>
<text x="1350.3" y="457.5" font-size="19.2" text-anchor="start">-100 mV</text>
<text x="17.3" y="386.0" font-size="19" text-anchor="start">a</text>
<text x="327.7" y="404.5" font-size="19" text-anchor="start">b</text>
<text x="399.3" y="399.0" font-size="19" text-anchor="start">a</text>
<text x="704.9" y="418.0" font-size="19" text-anchor="start">b</text>
<text x="776.0" y="382.4" font-size="19" text-anchor="start">a</text>
<text x="1098.8" y="412.0" font-size="19" text-anchor="start">b</text>
<text x="1153.8" y="407.5" font-size="19" text-anchor="start">a</text>
<text x="1476.8" y="436.5" font-size="19" text-anchor="start">b</text>
<line x1="173.8" y1="527.0" x2="173.8" y2="789.5" stroke="#111" stroke-width="2.2"/>
<line x1="169.3" y1="527.0" x2="173.8" y2="527.0" stroke="#111" stroke-width="2"/>
<text x="166.8" y="533.5" font-size="19.5" text-anchor="end">400</text>
<line x1="169.3" y1="570.8" x2="173.8" y2="570.8" stroke="#111" stroke-width="2"/>
<text x="166.8" y="577.2" font-size="19.5" text-anchor="end">300</text>
<line x1="169.3" y1="614.5" x2="173.8" y2="614.5" stroke="#111" stroke-width="2"/>
<text x="166.8" y="621.0" font-size="19.5" text-anchor="end">200</text>
<line x1="169.3" y1="658.2" x2="173.8" y2="658.2" stroke="#111" stroke-width="2"/>
<text x="166.8" y="664.8" font-size="19.5" text-anchor="end">100</text>
<line x1="169.3" y1="745.8" x2="173.8" y2="745.8" stroke="#111" stroke-width="2"/>
<text x="166.8" y="752.2" font-size="19.5" text-anchor="end">-100</text>
<line x1="169.3" y1="789.5" x2="173.8" y2="789.5" stroke="#111" stroke-width="2"/>
<text x="166.8" y="796.0" font-size="19.5" text-anchor="end">-200</text>
<line x1="8.4" y1="702.0" x2="338.5" y2="702.0" stroke="#111" stroke-width="2.2"/>
<line x1="8.4" y1="702.0" x2="8.4" y2="706.5" stroke="#111" stroke-width="2"/>
<line x1="91.6" y1="702.0" x2="91.6" y2="706.5" stroke="#111" stroke-width="2"/>
<text x="90.3" y="724.0" font-size="19.5" text-anchor="middle">-50</text>
<line x1="256.0" y1="702.0" x2="256.0" y2="706.5" stroke="#111" stroke-width="2"/>
<text x="256.0" y="724.0" font-size="19.5" text-anchor="middle">50</text>
<line x1="338.2" y1="702.0" x2="338.2" y2="706.5" stroke="#111" stroke-width="2"/>
<text x="338.2" y="724.0" font-size="19.5" text-anchor="middle">100</text>
<text x="268.0" y="743.7" font-size="24" text-anchor="start">V (mV)</text>
<text transform="translate(129.7,610.9) rotate(-90)" font-size="24.5" text-anchor="start">I (pA)</text>
<text x="7.4" y="695.0" font-size="19.5" text-anchor="start">-100</text>
<text x="178.1" y="724.0" font-size="19.5" text-anchor="start">0</text>
<polyline points="9.4,710.5 10.2,708.3 11.0,708.2 11.8,706.3 12.6,707.7 13.4,707.0 14.2,707.6 15.0,707.2 15.8,709.0 16.6,706.8 17.4,707.6 18.2,707.3 19.0,708.4 19.8,707.7 20.6,707.2 21.4,707.3 22.2,707.5 23.0,706.5 23.8,705.5 24.6,705.6 25.4,706.7 26.2,707.4 27.0,705.0 27.8,706.2 28.6,705.5 29.4,707.2 30.2,705.4 31.0,705.5 31.8,705.8 32.6,704.7 33.4,706.6 34.2,703.8 35.0,705.2 35.8,703.4 36.6,702.9 37.4,703.0 38.2,704.1 39.0,704.2 39.8,704.2 40.6,702.3 41.4,701.4 42.2,702.2 43.0,701.3 43.8,700.7 44.6,702.4 45.4,701.4 46.2,700.1 47.0,701.5 47.8,701.6 48.6,701.6 49.4,703.5 50.2,702.2 51.0,701.7 51.8,702.0 52.6,700.4 53.4,699.7 54.2,700.9 55.0,702.2 55.8,700.5 56.6,700.2 57.4,703.4 58.2,701.0 59.0,701.3 59.8,700.5 60.6,702.4 61.4,701.6 62.2,702.4 63.0,702.1 63.8,700.2 64.6,701.6 65.4,701.2 66.2,700.9 67.0,702.5 67.8,700.6 68.6,698.8 69.4,699.8 70.2,701.4 71.0,701.7 71.8,699.0 72.6,702.5 73.4,699.1 74.2,701.3 75.0,700.1 75.8,700.1 76.6,699.6 77.4,699.8 78.2,701.2 79.0,700.9 79.8,697.9 80.6,698.8 81.4,698.5 82.2,697.0 83.0,698.4 83.8,697.7 84.6,698.0 85.4,699.0 86.2,699.8 87.0,698.3 87.8,699.3 88.6,699.2 89.4,699.2 90.2,697.5 91.0,698.4 91.8,698.2 92.6,698.4 93.4,695.7 94.2,697.2 95.0,696.9 95.8,696.4 96.6,697.6 97.4,696.7 98.2,696.2 99.0,695.2 99.8,695.8 100.6,696.8 101.4,695.5 102.2,696.7 103.0,698.2 103.8,697.2 104.6,698.4 105.4,695.7 106.2,697.6 107.0,695.4 107.8,695.4 108.6,696.1 109.4,695.2 110.2,695.7 111.0,697.1 111.8,695.2 112.6,694.6 113.4,696.7 114.2,695.6 115.0,695.5 115.8,695.8 116.6,696.5 117.4,696.8 118.2,695.8 119.0,693.8 119.8,694.9 120.6,694.9 121.4,693.8 122.2,693.7 123.0,692.3 123.8,692.8 124.6,692.0 125.4,693.0 126.2,693.9 127.0,692.7 127.8,690.9 128.6,692.8 129.4,691.7 130.2,691.5 131.0,691.2 131.8,689.4 132.6,690.2 133.4,690.8 134.2,690.9 135.0,688.9 135.8,689.7 136.6,687.3 137.4,687.9 138.2,687.9 139.0,687.1 139.8,688.3 140.6,688.8 141.4,686.1 142.2,687.1 143.0,685.8 143.8,686.2 144.6,683.8 145.4,685.6 146.2,687.2 147.0,686.2 147.8,686.1 148.6,686.0 149.4,687.1 150.2,683.5 151.0,684.3 151.8,684.5 152.6,684.6 153.4,682.7 154.2,684.1 155.0,684.0 155.8,683.1 156.6,682.7 157.4,683.4 158.2,682.8 159.0,681.3 159.8,681.6 160.6,681.8 161.4,682.0 162.2,680.8 163.0,681.5 163.8,680.8 164.6,679.9 165.4,679.0 166.2,678.2 167.0,680.8 167.8,679.5 168.6,679.6 169.4,679.0 170.2,681.3 171.0,680.3 171.8,679.0 172.6,681.0 173.4,679.5 174.2,677.9 175.0,679.8 175.8,677.5 176.6,677.7 177.4,679.4 178.2,680.1 179.0,680.4 179.8,678.7 180.6,677.0 181.4,678.6 182.2,679.2 183.0,679.6 183.8,677.6 184.6,680.2 185.4,677.9 186.2,676.1 187.0,675.7 187.8,676.2 188.6,675.7 189.4,674.9 190.2,676.4 191.0,677.5 191.8,675.6 192.6,674.2 193.4,675.1 194.2,675.6 195.0,673.9 195.8,673.4 196.6,671.4 197.4,671.6 198.2,672.6 199.0,672.2 199.8,672.0 200.6,669.1 201.4,671.0 202.2,670.1 203.0,668.8 203.8,670.1 204.6,671.3 205.4,671.8 206.2,668.7 207.0,667.0 207.8,670.6 208.6,668.9 209.4,668.7 210.2,668.7 211.0,668.6 211.8,669.0 212.6,667.0 213.4,667.7 214.2,668.0 215.0,668.1 215.8,666.2 216.6,666.7 217.4,668.2 218.2,667.7 219.0,665.7 219.8,668.7 220.6,666.7 221.4,667.2 222.2,667.1 223.0,666.5 223.8,664.0 224.6,664.5 225.4,664.4 226.2,662.9 227.0,662.8 227.8,662.0 228.6,663.2 229.4,662.8 230.2,663.0 231.0,664.1 231.8,661.2 232.6,662.3 233.4,661.6 234.2,662.1 235.0,660.9 235.8,660.8 236.6,660.1 237.4,658.8 238.2,657.8 239.0,657.3 239.8,659.1 240.6,658.2 241.4,660.1 242.2,658.3 243.0,657.2 243.8,658.5 244.6,655.2 245.4,657.7 246.2,657.3 247.0,657.6 247.8,655.5 248.6,658.1 249.4,653.4 250.2,656.0 251.0,654.9 251.8,655.5 252.6,654.6 253.4,654.9 254.2,655.9 255.0,656.3 255.8,656.4 256.6,656.7 257.4,658.6 258.2,658.3 259.0,658.9 259.8,656.4 260.6,657.6 261.4,656.3 262.2,656.2 263.0,653.4 263.8,654.4 264.6,651.9 265.4,653.6 266.2,654.3 267.0,653.9 267.8,653.5 268.6,652.1 269.4,652.5 270.2,650.9 271.0,650.9 271.8,650.0 272.6,648.4 273.4,649.5 274.2,647.9 275.0,649.9 275.8,646.9 276.6,648.0 277.4,646.4 278.2,647.0 279.0,648.5 279.8,648.1 280.6,648.8 281.4,646.7 282.2,648.3 283.0,647.7 283.8,648.0 284.6,647.5 285.4,645.4 286.2,644.3 287.0,644.7 287.8,642.7 288.6,643.7 289.4,646.0 290.2,644.1 291.0,643.1 291.8,643.3 292.6,643.6 293.4,644.8 294.2,642.8 295.0,640.4 295.8,640.0 296.6,643.8 297.4,643.4 298.2,640.7 299.0,642.0 299.8,640.8 300.6,642.2 301.4,640.9 302.2,640.1 303.0,639.9 303.8,638.7 304.6,638.3 305.4,637.9 306.2,639.0 307.0,637.9 307.8,640.5 308.6,637.9 309.4,640.1 310.2,640.3 311.0,639.5 311.8,636.8 312.6,638.5 313.4,637.2 314.2,638.3 315.0,637.1 315.8,636.3 316.6,635.9 317.4,637.1 318.2,635.6 319.0,635.8 319.8,635.8 320.6,634.1 321.4,635.1 322.2,634.9 323.0,632.8 323.8,634.9 324.6,633.5 325.4,634.9 326.2,632.6 327.0,632.2 327.8,631.4 328.6,632.9 329.4,634.3 330.2,630.2 331.0,630.0 331.8,630.2 332.6,630.9 333.4,631.1 334.2,630.6 335.0,631.0 335.8,628.8 336.6,629.5 337.4,629.5 338.2,628.8" fill="none" stroke="#1a1a1a" stroke-width="2.4" stroke-linejoin="round"/>
<polyline points="9.4,703.4 10.2,704.2 11.0,703.0 11.8,703.1 12.6,702.3 13.4,702.5 14.2,702.6 15.0,699.2 15.8,702.3 16.6,702.5 17.4,702.5 18.2,702.2 19.0,702.6 19.8,700.6 20.6,701.2 21.4,701.5 22.2,699.3 23.0,699.2 23.8,699.8 24.6,699.0 25.4,699.6 26.2,702.5 27.0,700.9 27.8,699.7 28.6,701.0 29.4,699.9 30.2,699.1 31.0,700.4 31.8,699.2 32.6,698.3 33.4,698.4 34.2,700.7 35.0,699.6 35.8,700.3 36.6,700.8 37.4,701.6 38.2,701.3 39.0,700.0 39.8,701.6 40.6,699.8 41.4,699.8 42.2,699.3 43.0,700.7 43.8,700.8 44.6,700.3 45.4,703.0 46.2,702.3 47.0,701.3 47.8,703.8 48.6,701.9 49.4,701.9 50.2,703.2 51.0,704.1 51.8,703.7 52.6,703.6 53.4,702.8 54.2,704.5 55.0,703.0 55.8,702.8 56.6,703.2 57.4,701.1 58.2,702.8 59.0,702.8 59.8,700.9 60.6,701.9 61.4,701.8 62.2,702.3 63.0,700.9 63.8,702.4 64.6,701.4 65.4,700.5 66.2,700.5 67.0,700.6 67.8,699.6 68.6,700.9 69.4,700.9 70.2,700.8 71.0,701.8 71.8,699.2 72.6,699.6 73.4,701.5 74.2,701.5 75.0,698.3 75.8,698.6 76.6,699.1 77.4,698.7 78.2,698.7 79.0,697.7 79.8,699.0 80.6,699.2 81.4,697.8 82.2,698.9 83.0,699.9 83.8,698.4 84.6,698.5 85.4,697.7 86.2,697.8 87.0,697.7 87.8,696.7 88.6,696.1 89.4,695.7 90.2,696.7 91.0,697.7 91.8,698.2 92.6,696.8 93.4,698.4 94.2,698.0 95.0,698.6 95.8,697.9 96.6,698.0 97.4,697.8 98.2,698.1 99.0,697.0 99.8,695.3 100.6,696.5 101.4,697.7 102.2,693.9 103.0,695.3 103.8,693.5 104.6,693.6 105.4,695.0 106.2,693.6 107.0,693.5 107.8,694.1 108.6,694.5 109.4,695.5 110.2,694.3 111.0,694.0 111.8,693.3 112.6,693.5 113.4,695.0 114.2,693.6 115.0,693.2 115.8,692.4 116.6,693.2 117.4,693.9 118.2,691.5 119.0,692.4 119.8,693.1 120.6,692.7 121.4,694.0 122.2,692.4 123.0,692.7 123.8,692.1 124.6,693.6 125.4,692.8 126.2,692.8 127.0,690.6 127.8,692.8 128.6,691.4 129.4,688.9 130.2,689.8 131.0,691.1 131.8,689.9 132.6,689.5 133.4,692.5 134.2,691.4 135.0,691.2 135.8,691.9 136.6,689.6 137.4,689.4 138.2,692.1 139.0,690.3 139.8,691.2 140.6,693.7 141.4,691.7 142.2,690.8 143.0,693.5 143.8,693.1 144.6,691.7 145.4,690.3 146.2,693.2 147.0,690.8 147.8,689.8 148.6,687.9 149.4,688.6 150.2,689.0 151.0,688.4 151.8,689.9 152.6,690.9 153.4,688.7 154.2,687.7 155.0,688.9 155.8,690.2 156.6,689.1 157.4,689.6 158.2,689.7 159.0,688.9 159.8,688.7 160.6,689.1 161.4,687.4 162.2,687.4 163.0,687.2 163.8,686.1 164.6,686.5 165.4,687.2 166.2,686.7 167.0,686.3 167.8,685.9 168.6,687.8 169.4,687.2 170.2,689.3 171.0,689.1 171.8,688.4 172.6,688.1 173.4,687.8 174.2,687.7 175.0,687.1 175.8,688.1 176.6,687.8 177.4,688.8 178.2,689.8 179.0,688.7 179.8,687.5 180.6,687.2 181.4,688.5 182.2,688.5 183.0,687.1 183.8,685.0 184.6,685.6 185.4,686.3 186.2,685.3 187.0,688.7 187.8,686.5 188.6,687.3 189.4,687.2 190.2,686.5 191.0,688.9 191.8,686.9 192.6,687.1 193.4,686.3 194.2,686.1 195.0,686.4 195.8,685.9 196.6,687.6 197.4,687.1 198.2,686.3 199.0,687.0 199.8,687.2 200.6,686.9 201.4,686.6 202.2,684.8 203.0,685.8 203.8,685.1 204.6,684.3 205.4,684.5 206.2,683.7 207.0,684.8 207.8,682.6 208.6,683.7 209.4,683.2 210.2,684.3 211.0,681.6 211.8,680.4 212.6,682.2 213.4,682.2 214.2,681.9 215.0,685.2 215.8,685.6 216.6,681.5 217.4,683.9 218.2,683.3 219.0,684.1 219.8,683.9 220.6,682.8 221.4,683.4 222.2,685.0 223.0,685.1 223.8,683.2 224.6,682.9 225.4,684.9 226.2,682.0 227.0,680.6 227.8,683.3 228.6,682.7 229.4,682.8 230.2,682.6 231.0,682.4 231.8,680.4 232.6,680.4 233.4,681.1 234.2,682.8 235.0,680.7 235.8,681.0 236.6,680.1 237.4,679.7 238.2,677.8 239.0,678.5 239.8,675.8 240.6,679.8 241.4,676.8 242.2,678.7 243.0,678.9 243.8,676.9 244.6,675.7 245.4,675.6 246.2,677.8 247.0,676.0 247.8,677.0 248.6,677.4 249.4,675.5 250.2,678.8 251.0,677.6 251.8,677.5 252.6,679.3 253.4,676.9 254.2,677.5 255.0,678.2 255.8,676.7 256.6,677.3 257.4,677.0 258.2,677.8 259.0,678.9 259.8,678.4 260.6,677.9 261.4,677.1 262.2,677.8 263.0,678.7 263.8,678.4 264.6,679.8 265.4,680.1 266.2,678.3 267.0,679.9 267.8,678.5 268.6,677.3 269.4,677.8 270.2,679.0 271.0,677.8 271.8,679.4 272.6,679.8 273.4,679.2 274.2,677.4 275.0,677.8 275.8,677.2 276.6,676.7 277.4,678.2 278.2,677.1 279.0,674.7 279.8,674.6 280.6,673.9 281.4,676.6 282.2,676.5 283.0,678.3 283.8,676.3 284.6,675.6 285.4,677.0 286.2,677.3 287.0,677.9 287.8,676.7 288.6,676.1 289.4,675.6 290.2,676.0 291.0,673.9 291.8,676.3 292.6,674.6 293.4,673.6 294.2,674.0 295.0,673.3 295.8,672.3 296.6,671.7 297.4,673.3 298.2,672.8 299.0,673.6 299.8,672.0 300.6,669.9 301.4,672.9 302.2,673.5 303.0,672.7 303.8,673.4 304.6,671.3 305.4,671.4 306.2,670.9 307.0,673.2 307.8,672.9 308.6,669.5 309.4,670.6 310.2,671.3 311.0,672.2 311.8,671.6 312.6,672.2 313.4,671.9 314.2,670.9 315.0,671.0 315.8,670.2 316.6,671.6 317.4,671.7 318.2,670.9 319.0,671.3 319.8,672.8 320.6,670.6 321.4,670.5 322.2,669.7 323.0,669.9 323.8,669.3 324.6,668.2 325.4,667.3 326.2,666.3 327.0,666.2 327.8,665.8 328.6,664.9 329.4,666.0 330.2,666.4 331.0,667.1 331.8,666.3 332.6,669.7 333.4,669.4 334.2,669.5 335.0,669.5 335.8,668.6 336.6,668.4 337.4,667.7 338.2,668.8" fill="none" stroke="#1a1a1a" stroke-width="2.4" stroke-linejoin="round"/>
<text x="343.2" y="632.7" font-size="19" text-anchor="start">b</text>
<text x="343.7" y="671.8" font-size="19" text-anchor="start">a</text>
<line x1="554.0" y1="525.3" x2="554.0" y2="791.1" stroke="#111" stroke-width="2.2"/>
<line x1="549.5" y1="525.3" x2="554.0" y2="525.3" stroke="#111" stroke-width="2"/>
<text x="547.0" y="531.8" font-size="19.5" text-anchor="end">400</text>
<line x1="549.5" y1="569.6" x2="554.0" y2="569.6" stroke="#111" stroke-width="2"/>
<text x="547.0" y="576.1" font-size="19.5" text-anchor="end">300</text>
<line x1="549.5" y1="613.9" x2="554.0" y2="613.9" stroke="#111" stroke-width="2"/>
<text x="547.0" y="620.4" font-size="19.5" text-anchor="end">200</text>
<line x1="549.5" y1="658.2" x2="554.0" y2="658.2" stroke="#111" stroke-width="2"/>
<text x="547.0" y="664.7" font-size="19.5" text-anchor="end">100</text>
<line x1="549.5" y1="746.8" x2="554.0" y2="746.8" stroke="#111" stroke-width="2"/>
<text x="547.0" y="753.3" font-size="19.5" text-anchor="end">-100</text>
<line x1="549.5" y1="791.1" x2="554.0" y2="791.1" stroke="#111" stroke-width="2"/>
<text x="547.0" y="797.6" font-size="19.5" text-anchor="end">-200</text>
<line x1="389.2" y1="702.5" x2="718.6" y2="702.5" stroke="#111" stroke-width="2.2"/>
<line x1="389.2" y1="702.5" x2="389.2" y2="707.0" stroke="#111" stroke-width="2"/>
<line x1="471.8" y1="702.5" x2="471.8" y2="707.0" stroke="#111" stroke-width="2"/>
<text x="470.5" y="724.8" font-size="19.5" text-anchor="middle">-50</text>
<line x1="636.2" y1="702.5" x2="636.2" y2="707.0" stroke="#111" stroke-width="2"/>
<text x="637.2" y="724.8" font-size="19.5" text-anchor="middle">50</text>
<line x1="718.4" y1="702.5" x2="718.4" y2="707.0" stroke="#111" stroke-width="2"/>
<text x="719.4" y="724.8" font-size="19.5" text-anchor="middle">100</text>
<text x="646.0" y="744.5" font-size="24" text-anchor="start">V (mV)</text>
<text transform="translate(509.7,605.3) rotate(-90)" font-size="24.5" text-anchor="start">I (pA)</text>
<text x="391.8" y="693.3" font-size="19.5" text-anchor="start">-100</text>
<text x="558.3" y="724.8" font-size="19.5" text-anchor="start">0</text>
<polyline points="389.6,716.2 390.3,714.9 391.0,713.0 391.7,715.0 392.4,715.4 393.1,715.0 393.8,713.8 394.5,713.8 395.2,711.0 395.9,711.2 396.6,710.9 397.3,709.7 398.0,711.6 398.7,710.8 399.4,708.8 400.1,708.1 400.8,711.2 401.5,709.1 402.2,708.2 402.9,709.9 403.6,709.8 404.3,708.8 405.0,708.7 405.7,709.6 406.4,705.4 407.1,703.7 407.8,705.1 408.5,707.4 409.2,706.9 409.9,709.2 410.6,708.8 411.3,708.4 412.0,710.0 412.7,707.5 413.4,712.6 414.1,710.8 414.8,711.6 415.5,708.9 416.2,708.4 416.9,707.0 417.6,707.0 418.3,705.9 419.0,706.4 419.7,705.5 420.4,707.2 421.1,705.0 421.8,707.7 422.5,708.9 423.2,705.6 423.9,705.5 424.6,703.0 425.3,702.6 426.0,703.7 426.7,703.9 427.4,704.3 428.1,704.0 428.8,703.9 429.5,703.8 430.2,704.2 430.9,703.3 431.6,701.9 432.3,701.6 433.0,700.3 433.7,702.8 434.4,698.8 435.1,703.4 435.8,700.9 436.5,702.0 437.2,701.9 437.9,701.9 438.6,700.6 439.3,699.1 440.0,700.9 440.7,699.6 441.4,702.4 442.1,700.5 442.8,701.9 443.5,700.2 444.2,701.1 444.9,702.7 445.6,700.9 446.3,702.4 447.0,701.0 447.7,699.4 448.4,702.8 449.1,700.4 449.8,701.1 450.5,703.2 451.2,701.3 451.9,702.7 452.6,701.4 453.3,700.7 454.0,703.0 454.7,701.6 455.4,703.1 456.1,701.6 456.8,699.2 457.5,699.6 458.2,701.7 458.9,700.9 459.6,699.2 460.3,699.5 461.0,699.6 461.7,700.8 462.4,701.5 463.1,703.5 463.8,703.9 464.5,700.5 465.2,701.4 465.9,698.3 466.6,701.6 467.3,697.9 468.0,698.1 468.7,695.6 469.4,699.1 470.1,697.4 470.8,698.4 471.5,695.5 472.2,698.3 472.9,699.2 473.6,697.3 474.3,696.5 475.0,697.1 475.7,697.2 476.4,697.8 477.1,699.3 477.8,698.7 478.5,698.0 479.2,694.9 479.9,696.6 480.6,697.2 481.3,694.2 482.0,695.9 482.7,695.6 483.4,693.0 484.1,692.6 484.8,693.8 485.5,691.9 486.2,691.7 486.9,690.5 487.6,688.7 488.3,690.8 489.0,689.9 489.7,689.2 490.4,689.5 491.1,692.1 491.8,693.2 492.5,688.0 493.2,688.5 493.9,688.4 494.6,691.7 495.3,690.7 496.0,689.9 496.7,690.5 497.4,689.6 498.1,691.6 498.8,693.4 499.5,688.0 500.2,690.1 500.9,689.7 501.6,687.9 502.3,688.2 503.0,685.2 503.7,688.9 504.4,685.5 505.1,687.0 505.8,687.7 506.5,684.3 507.2,685.8 507.9,685.2 508.6,685.5 509.3,685.1 510.0,684.1 510.7,682.0 511.4,681.9 512.1,682.1 512.8,681.8 513.5,684.5 514.2,683.1 514.9,683.1 515.6,683.4 516.3,684.3 517.0,683.0 517.7,678.3 518.4,682.8 519.1,680.8 519.8,678.6 520.5,679.6 521.2,678.8 521.9,680.3 522.6,680.7 523.3,683.5 524.0,679.4 524.7,678.2 525.4,676.9 526.1,677.4 526.8,676.9 527.5,674.6 528.2,677.6 528.9,679.7 529.6,673.9 530.3,676.6 531.0,678.6 531.7,680.0 532.4,677.0 533.1,681.4 533.8,679.5 534.5,677.5 535.2,680.5 535.9,679.7 536.6,676.3 537.3,677.9 538.0,677.4 538.7,678.7 539.4,677.4 540.1,677.0 540.8,678.8 541.5,679.8 542.2,677.8 542.9,678.1 543.6,676.2 544.3,679.6 545.0,674.7 545.7,678.6 546.4,677.0 547.1,676.7 547.8,676.0 548.5,673.7 549.2,674.8 549.9,673.1 550.6,677.9 551.3,674.6 552.0,675.3 552.7,676.7 553.4,673.1 554.1,672.5 554.8,674.3 555.5,675.7 556.2,673.1 556.9,673.4 557.6,675.6 558.3,674.1 559.0,673.6 559.7,672.5 560.4,674.3 561.1,671.3 561.8,673.1 562.5,672.4 563.2,672.6 563.9,670.4 564.6,673.4 565.3,672.4 566.0,670.0 566.7,671.1 567.4,671.6 568.1,669.8 568.8,671.4 569.5,670.3 570.2,668.6 570.9,671.5 571.6,670.1 572.3,666.5 573.0,668.0 573.7,668.6 574.4,667.5 575.1,670.3 575.8,668.4 576.5,668.6 577.2,670.7 577.9,670.4 578.6,668.3 579.3,666.1 580.0,667.5 580.7,666.6 581.4,669.4 582.1,669.5 582.8,666.3 583.5,668.8 584.2,665.8 584.9,665.9 585.6,667.5 586.3,667.0 587.0,665.8 587.7,667.8 588.4,667.1 589.1,668.7 589.8,669.0 590.5,669.9 591.2,666.4 591.9,667.4 592.6,667.4 593.3,664.6 594.0,669.0 594.7,664.9 595.4,666.4 596.1,664.1 596.8,665.1 597.5,664.3 598.2,664.6 598.9,665.1 599.6,664.3 600.3,664.2 601.0,665.7 601.7,664.4 602.4,663.7 603.1,662.7 603.8,663.1 604.5,664.9 605.2,664.6 605.9,663.4 606.6,661.6 607.3,662.8 608.0,661.2 608.7,660.8 609.4,662.2 610.1,663.4 610.8,660.8 611.5,662.4 612.2,657.7 612.9,660.5 613.6,660.9 614.3,661.0 615.0,662.2 615.7,661.2 616.4,661.9 617.1,659.5 617.8,661.7 618.5,662.6 619.2,660.7 619.9,662.4 620.6,660.9 621.3,660.6 622.0,658.6 622.7,656.2 623.4,657.0 624.1,658.0 624.8,657.9 625.5,655.7 626.2,657.4 626.9,654.2 627.6,654.1 628.3,654.2 629.0,653.4 629.7,651.9 630.4,650.2 631.1,655.1 631.8,646.3 632.5,649.1 633.2,650.5 633.9,653.1 634.6,653.3 635.3,652.3 636.0,651.0 636.7,654.2 637.4,652.7 638.1,655.0 638.8,651.5 639.5,656.6 640.2,653.6 640.9,650.0 641.6,643.8 642.3,644.8 643.0,646.1 643.7,644.8 644.4,649.9 645.1,652.9 645.8,650.1 646.5,651.7 647.2,643.2 647.9,640.2 648.6,644.3 649.3,640.9 650.0,638.5 650.7,639.0 651.4,637.3 652.1,636.2 652.8,637.3 653.5,637.5 654.2,633.3 654.9,632.3 655.6,637.2 656.3,637.2 657.0,637.4 657.7,638.8 658.4,638.7 659.1,639.0 659.8,637.4 660.5,638.7 661.2,641.1 661.9,643.3 662.6,641.9 663.3,645.2 664.0,646.9 664.7,641.6 665.4,637.1 666.1,634.8 666.8,636.9 667.5,636.4 668.2,634.2 668.9,628.5 669.6,632.5 670.3,632.3 671.0,636.9 671.7,628.5 672.4,637.0 673.1,638.4 673.8,639.7 674.5,636.4 675.2,639.2 675.9,638.8 676.6,635.9 677.3,638.8 678.0,636.6 678.7,639.2 679.4,635.5 680.1,636.5 680.8,633.3 681.5,636.7 682.2,636.3 682.9,635.7 683.6,634.0 684.3,634.9 685.0,635.0 685.7,636.4 686.4,631.0 687.1,630.8 687.8,625.1 688.5,626.2 689.2,627.5 689.9,621.5 690.6,620.7 691.3,618.6 692.0,618.9 692.7,612.8 693.4,615.7 694.1,610.7 694.8,612.4 695.5,614.1 696.2,613.9 696.9,604.8 697.6,608.2 698.3,609.4 699.0,605.4 699.7,606.7 700.4,607.1 701.1,603.2 701.8,597.5 702.5,599.6 703.2,595.8 703.9,593.4 704.6,584.1 705.3,587.7 706.0,582.1 706.7,575.8 707.4,575.1 708.1,575.1 708.8,575.0 709.5,572.5 710.2,571.9 710.9,573.1 711.6,570.9 712.3,574.2 713.0,568.9 713.7,569.8 714.4,571.1 715.1,575.6 715.8,576.0 716.5,578.5 717.2,573.3 717.9,569.6" fill="none" stroke="#1a1a1a" stroke-width="2.4" stroke-linejoin="round"/>
<polyline points="389.6,712.8 390.4,712.2 391.2,712.7 392.0,711.9 392.8,711.8 393.6,711.6 394.4,712.2 395.2,714.5 396.0,710.1 396.8,711.0 397.6,712.7 398.4,708.4 399.2,710.4 400.0,708.6 400.8,709.2 401.6,709.0 402.4,709.0 403.2,708.9 404.0,708.9 404.8,708.7 405.6,709.3 406.4,707.8 407.2,709.5 408.0,708.2 408.8,709.6 409.6,710.1 410.4,708.0 411.2,708.0 412.0,707.9 412.8,706.2 413.6,707.8 414.4,707.2 415.2,705.7 416.0,706.7 416.8,704.7 417.6,707.3 418.4,707.5 419.2,707.5 420.0,706.0 420.8,704.2 421.6,707.4 422.4,707.4 423.2,707.6 424.0,703.4 424.8,705.4 425.6,704.4 426.4,705.0 427.2,703.0 428.0,703.5 428.8,702.2 429.6,703.7 430.4,703.5 431.2,704.0 432.0,704.0 432.8,702.8 433.6,704.3 434.4,707.9 435.2,705.1 436.0,702.7 436.8,704.2 437.6,705.2 438.4,704.6 439.2,706.5 440.0,702.7 440.8,704.2 441.6,704.5 442.4,705.9 443.2,703.6 444.0,703.0 444.8,703.9 445.6,703.2 446.4,702.1 447.2,703.3 448.0,705.5 448.8,702.3 449.6,704.5 450.4,701.2 451.2,701.4 452.0,700.4 452.8,704.2 453.6,701.4 454.4,702.2 455.2,702.0 456.0,701.8 456.8,702.3 457.6,702.8 458.4,700.4 459.2,698.5 460.0,701.1 460.8,700.7 461.6,700.4 462.4,699.0 463.2,700.1 464.0,700.6 464.8,699.6 465.6,699.8 466.4,700.2 467.2,700.0 468.0,698.3 468.8,698.3 469.6,700.6 470.4,698.1 471.2,700.6 472.0,699.7 472.8,698.9 473.6,698.0 474.4,700.2 475.2,698.7 476.0,700.2 476.8,698.4 477.6,698.8 478.4,697.2 479.2,697.2 480.0,699.2 480.8,697.0 481.6,698.7 482.4,697.1 483.2,695.9 484.0,693.8 484.8,694.4 485.6,695.7 486.4,693.6 487.2,693.4 488.0,695.9 488.8,694.7 489.6,693.9 490.4,692.2 491.2,695.7 492.0,692.5 492.8,694.1 493.6,690.6 494.4,692.3 495.2,691.2 496.0,691.7 496.8,692.9 497.6,692.1 498.4,692.5 499.2,692.0 500.0,691.9 500.8,692.7 501.6,693.2 502.4,692.3 503.2,691.6 504.0,691.9 504.8,690.6 505.6,692.6 506.4,691.2 507.2,689.2 508.0,687.5 508.8,692.4 509.6,688.9 510.4,688.2 511.2,691.9 512.0,689.6 512.8,688.5 513.6,690.3 514.4,690.6 515.2,690.3 516.0,690.4 516.8,688.9 517.6,689.7 518.4,691.1 519.2,687.7 520.0,690.4 520.8,687.5 521.6,690.8 522.4,690.4 523.2,689.1 524.0,690.4 524.8,692.5 525.6,688.9 526.4,690.8 527.2,691.9 528.0,691.2 528.8,687.3 529.6,688.6 530.4,688.1 531.2,688.2 532.0,688.2 532.8,690.6 533.6,690.8 534.4,685.9 535.2,684.1 536.0,685.8 536.8,685.3 537.6,684.3 538.4,685.4 539.2,684.7 540.0,686.4 540.8,685.7 541.6,686.7 542.4,685.0 543.2,686.1 544.0,686.9 544.8,688.1 545.6,688.2 546.4,686.0 547.2,689.0 548.0,686.4 548.8,688.5 549.6,687.1 550.4,686.6 551.2,688.2 552.0,685.3 552.8,688.1 553.6,686.6 554.4,683.9 555.2,685.3 556.0,684.3 556.8,684.0 557.6,687.1 558.4,683.4 559.2,682.5 560.0,683.9 560.8,683.1 561.6,683.0 562.4,684.3 563.2,685.9 564.0,684.0 564.8,682.9 565.6,683.8 566.4,681.0 567.2,682.8 568.0,684.0 568.8,684.0 569.6,682.8 570.4,683.7 571.2,683.3 572.0,683.1 572.8,684.0 573.6,679.8 574.4,682.9 575.2,681.5 576.0,682.0 576.8,678.1 577.6,682.1 578.4,678.9 579.2,680.7 580.0,682.0 580.8,681.7 581.6,680.7 582.4,679.3 583.2,682.1 584.0,682.0 584.8,681.2 585.6,683.2 586.4,682.7 587.2,684.4 588.0,682.8 588.8,685.1 589.6,679.2 590.4,680.9 591.2,681.5 592.0,680.6 592.8,682.8 593.6,683.7 594.4,682.5 595.2,677.9 596.0,682.1 596.8,682.9 597.6,682.2 598.4,682.4 599.2,682.0 600.0,683.5 600.8,679.1 601.6,680.0 602.4,683.1 603.2,680.2 604.0,680.6 604.8,680.0 605.6,678.1 606.4,680.6 607.2,681.3 608.0,678.8 608.8,679.9 609.6,677.1 610.4,679.2 611.2,679.8 612.0,678.0 612.8,677.1 613.6,678.6 614.4,677.3 615.2,679.3 616.0,676.9 616.8,679.2 617.6,674.1 618.4,676.8 619.2,678.2 620.0,676.6 620.8,676.7 621.6,676.5 622.4,675.9 623.2,674.0 624.0,676.0 624.8,677.0 625.6,675.2 626.4,676.5 627.2,678.4 628.0,675.1 628.8,675.6 629.6,675.6 630.4,675.2 631.2,676.0 632.0,675.0 632.8,673.8 633.6,675.4 634.4,671.7 635.2,672.9 636.0,674.3 636.8,672.3 637.6,672.5 638.4,673.0 639.2,672.6 640.0,673.9 640.8,672.2 641.6,675.5 642.4,674.4 643.2,674.7 644.0,673.6 644.8,674.7 645.6,673.2 646.4,674.3 647.2,674.6 648.0,673.3 648.8,674.8 649.6,674.2 650.4,672.7 651.2,675.3 652.0,675.5 652.8,674.3 653.6,672.8 654.4,674.1 655.2,674.2 656.0,675.0 656.8,675.0 657.6,673.6 658.4,675.0 659.2,671.7 660.0,672.0 660.8,671.4 661.6,671.6 662.4,673.2 663.2,672.5 664.0,672.7 664.8,672.8 665.6,674.0 666.4,674.6 667.2,671.5 668.0,672.4 668.8,669.6 669.6,670.2 670.4,669.4 671.2,669.0 672.0,667.6 672.8,667.4 673.6,668.2 674.4,665.4 675.2,668.1 676.0,668.6 676.8,668.4 677.6,668.9 678.4,668.5 679.2,666.1 680.0,666.1 680.8,669.0 681.6,667.5 682.4,667.1 683.2,668.2 684.0,668.7 684.8,667.6 685.6,670.7 686.4,667.5 687.2,666.5 688.0,666.1 688.8,665.0 689.6,665.5 690.4,665.9 691.2,664.2 692.0,665.9 692.8,666.7 693.6,665.6 694.4,663.8 695.2,663.9 696.0,663.6 696.8,663.0 697.6,663.0 698.4,663.2 699.2,664.4 700.0,661.2 700.8,662.8 701.6,660.6 702.4,663.2 703.2,664.4 704.0,661.6 704.8,662.4 705.6,663.5 706.4,662.1 707.2,660.0 708.0,662.7 708.8,663.3 709.6,660.5 710.4,662.5 711.2,660.6 712.0,660.9 712.8,660.1 713.6,661.7 714.4,661.0 715.2,659.4 716.0,659.6 716.8,661.6 717.6,662.3 718.4,658.7" fill="none" stroke="#1a1a1a" stroke-width="2.4" stroke-linejoin="round"/>
<text x="720.3" y="571.0" font-size="19" text-anchor="start">b</text>
<text x="721.3" y="663.8" font-size="19" text-anchor="start">a</text>
<line x1="934.0" y1="524.2" x2="934.0" y2="788.2" stroke="#111" stroke-width="2.2"/>
<line x1="929.5" y1="524.2" x2="934.0" y2="524.2" stroke="#111" stroke-width="2"/>
<text x="927.0" y="528.5" font-size="19.5" text-anchor="end">1.5</text>
<line x1="929.5" y1="590.2" x2="934.0" y2="590.2" stroke="#111" stroke-width="2"/>
<text x="927.0" y="594.5" font-size="19.5" text-anchor="end">1.0</text>
<line x1="929.5" y1="656.2" x2="934.0" y2="656.2" stroke="#111" stroke-width="2"/>
<text x="927.0" y="660.5" font-size="19.5" text-anchor="end">0.5</text>
<line x1="929.5" y1="788.2" x2="934.0" y2="788.2" stroke="#111" stroke-width="2"/>
<text x="927.0" y="792.5" font-size="19.5" text-anchor="end">-0.5</text>
<line x1="770.0" y1="722.2" x2="1098.5" y2="722.2" stroke="#111" stroke-width="2.2"/>
<line x1="770.0" y1="722.2" x2="770.0" y2="726.7" stroke="#111" stroke-width="2"/>
<line x1="851.6" y1="722.2" x2="851.6" y2="726.7" stroke="#111" stroke-width="2"/>
<line x1="1016.2" y1="722.2" x2="1016.2" y2="726.7" stroke="#111" stroke-width="2"/>
<text x="1017.6" y="742.9" font-size="19.5" text-anchor="middle">50</text>
<line x1="1098.4" y1="722.2" x2="1098.4" y2="726.7" stroke="#111" stroke-width="2"/>
<text x="1100.4" y="742.9" font-size="19.5" text-anchor="middle">100</text>
<text x="1023.2" y="764.7" font-size="24" text-anchor="start">V (mV)</text>
<text transform="translate(893.7,605.4) rotate(-90)" font-size="24.5" text-anchor="start">I (pA)</text>
<text x="774.4" y="718.0" font-size="19.5" text-anchor="start">-100</text>
<text x="842.6" y="718.0" font-size="19.5" text-anchor="start">-50</text>
<text x="939.5" y="742.9" font-size="19.5" text-anchor="start">0</text>
<polyline points="769.6,756.7 770.4,756.6 771.2,756.9 772.0,757.8 772.8,757.6 773.6,757.6 774.4,757.5 775.2,756.9 776.0,756.6 776.8,756.6 777.6,755.1 778.4,754.8 779.2,754.6 780.0,754.5 780.8,754.5 781.6,754.1 782.4,754.7 783.2,753.6 784.0,754.2 784.8,752.6 785.6,752.9 786.4,753.0 787.2,752.7 788.0,752.8 788.8,752.2 789.6,752.2 790.4,751.4 791.2,751.8 792.0,751.2 792.8,751.1 793.6,750.3 794.4,750.7 795.2,750.7 796.0,750.1 796.8,750.6 797.6,750.1 798.4,749.1 799.2,749.4 800.0,748.8 800.8,749.0 801.6,747.8 802.4,748.3 803.2,748.0 804.0,747.2 804.8,748.0 805.6,747.1 806.4,747.0 807.2,746.7 808.0,745.4 808.8,746.1 809.6,745.8 810.4,745.6 811.2,744.9 812.0,745.1 812.8,744.9 813.6,744.5 814.4,744.0 815.2,743.1 816.0,743.2 816.8,743.5 817.6,743.5 818.4,743.0 819.2,742.4 820.0,742.1 820.8,741.8 821.6,741.5 822.4,741.3 823.2,741.5 824.0,740.5 824.8,740.3 825.6,740.1 826.4,739.1 827.2,739.8 828.0,738.6 828.8,738.3 829.6,738.8 830.4,738.5 831.2,737.3 832.0,738.2 832.8,736.8 833.6,736.8 834.4,736.9 835.2,736.3 836.0,735.4 836.8,735.8 837.6,734.6 838.4,735.3 839.2,734.1 840.0,734.0 840.8,733.8 841.6,733.9 842.4,733.0 843.2,732.3 844.0,732.2 844.8,731.7 845.6,731.4 846.4,731.0 847.2,730.6 848.0,730.7 848.8,730.4 849.6,730.3 850.4,729.5 851.2,729.2 852.0,728.9 852.8,728.6 853.6,728.1 854.4,727.7 855.2,727.0 856.0,727.6 856.8,726.5 857.6,726.5 858.4,726.2 859.2,725.5 860.0,724.9 860.8,724.5 861.6,723.9 862.4,723.5 863.2,723.0 864.0,723.2 864.8,722.4 865.6,722.0 866.4,721.7 867.2,721.4 868.0,721.3 868.8,720.5 869.6,719.7 870.4,720.0 871.2,719.6 872.0,718.9 872.8,718.4 873.6,718.0 874.4,717.7 875.2,717.4 876.0,716.8 876.8,716.8 877.6,716.3 878.4,715.7 879.2,714.6 880.0,714.7 880.8,715.0 881.6,713.6 882.4,713.6 883.2,712.9 884.0,712.3 884.8,711.7 885.6,711.5 886.4,710.9 887.2,710.6 888.0,710.6 888.8,709.9 889.6,708.9 890.4,708.9 891.2,708.6 892.0,707.7 892.8,707.5 893.6,707.2 894.4,706.1 895.2,706.2 896.0,705.8 896.8,705.0 897.6,705.2 898.4,704.4 899.2,703.4 900.0,703.7 900.8,702.7 901.6,702.3 902.4,701.8 903.2,701.6 904.0,700.7 904.8,700.9 905.6,699.4 906.4,699.4 907.2,698.7 908.0,698.2 908.8,697.6 909.6,696.7 910.4,696.6 911.2,696.9 912.0,696.1 912.8,695.4 913.6,694.7 914.4,694.4 915.2,693.8 916.0,693.0 916.8,692.6 917.6,692.3 918.4,691.4 919.2,691.0 920.0,690.7 920.8,690.4 921.6,689.5 922.4,688.8 923.2,688.8 924.0,688.4 924.8,687.4 925.6,687.1 926.4,686.1 927.2,685.3 928.0,685.4 928.8,684.7 929.6,684.0 930.4,683.3 931.2,683.5 932.0,682.5 932.8,681.9 933.6,681.2 934.4,680.9 935.2,680.1 936.0,679.5 936.8,678.9 937.6,678.8 938.4,677.7 939.2,677.5 940.0,676.4 940.8,675.9 941.6,675.3 942.4,674.8 943.2,674.2 944.0,673.9 944.8,673.4 945.6,672.5 946.4,672.1 947.2,671.6 948.0,670.7 948.8,670.4 949.6,669.9 950.4,669.3 951.2,668.4 952.0,668.2 952.8,667.5 953.6,667.1 954.4,666.2 955.2,666.0 956.0,664.5 956.8,664.4 957.6,664.0 958.4,663.5 959.2,662.2 960.0,661.9 960.8,661.3 961.6,661.0 962.4,660.1 963.2,659.3 964.0,658.2 964.8,658.2 965.6,656.8 966.4,656.5 967.2,656.1 968.0,655.7 968.8,654.9 969.6,653.9 970.4,653.5 971.2,653.0 972.0,652.0 972.8,651.6 973.6,651.0 974.4,650.4 975.2,649.9 976.0,649.1 976.8,648.5 977.6,648.0 978.4,647.2 979.2,646.5 980.0,645.9 980.8,644.8 981.6,644.1 982.4,643.7 983.2,643.0 984.0,642.6 984.8,640.9 985.6,641.2 986.4,640.1 987.2,639.7 988.0,639.1 988.8,637.9 989.6,637.6 990.4,636.9 991.2,636.3 992.0,635.5 992.8,634.6 993.6,634.2 994.4,633.4 995.2,632.7 996.0,631.5 996.8,630.9 997.6,630.1 998.4,630.0 999.2,628.4 1000.0,627.9 1000.8,628.2 1001.6,627.0 1002.4,626.3 1003.2,625.9 1004.0,624.8 1004.8,623.6 1005.6,623.3 1006.4,622.8 1007.2,621.3 1008.0,620.9 1008.8,620.5 1009.6,619.7 1010.4,618.6 1011.2,618.0 1012.0,617.4 1012.8,616.3 1013.6,615.7 1014.4,615.3 1015.2,614.2 1016.0,613.8 1016.8,612.2 1017.6,612.0 1018.4,611.3 1019.2,610.3 1020.0,610.1 1020.8,609.2 1021.6,608.4 1022.4,607.7 1023.2,607.0 1024.0,605.9 1024.8,605.0 1025.6,604.7 1026.4,603.6 1027.2,602.6 1028.0,602.2 1028.8,601.1 1029.6,600.6 1030.4,600.1 1031.2,598.9 1032.0,598.0 1032.8,596.9 1033.6,596.2 1034.4,595.9 1035.2,595.0 1036.0,594.5 1036.8,593.5 1037.6,592.9 1038.4,591.9 1039.2,591.5 1040.0,589.6 1040.8,589.0 1041.6,588.5 1042.4,588.1 1043.2,586.6 1044.0,586.3 1044.8,585.5 1045.6,584.2 1046.4,583.4 1047.2,582.7 1048.0,581.9 1048.8,580.7 1049.6,580.2 1050.4,579.0 1051.2,578.3 1052.0,578.2 1052.8,576.9 1053.6,576.1 1054.4,575.3 1055.2,574.6 1056.0,573.1 1056.8,572.6 1057.6,572.0 1058.4,570.7 1059.2,570.0 1060.0,569.3 1060.8,568.8 1061.6,567.2 1062.4,567.2 1063.2,565.7 1064.0,565.2 1064.8,563.7 1065.6,563.0 1066.4,562.6 1067.2,561.5 1068.0,561.1 1068.8,559.8 1069.6,559.0 1070.4,557.9 1071.2,557.4 1072.0,556.1 1072.8,555.0 1073.6,554.7 1074.4,553.0 1075.2,553.3 1076.0,551.3 1076.8,551.5 1077.6,549.8 1078.4,549.3 1079.2,548.4 1080.0,547.7 1080.8,546.8 1081.6,545.0 1082.4,544.2 1083.2,543.4 1084.0,542.3 1084.8,542.0 1085.6,541.1 1086.4,540.4 1087.2,538.8 1088.0,538.4 1088.8,537.3 1089.6,536.7 1090.4,535.8 1091.2,534.6 1092.0,533.6 1092.8,532.2 1093.6,531.9 1094.4,530.9 1095.2,529.2 1096.0,529.1 1096.8,528.0 1097.6,526.7 1098.4,526.4" fill="none" stroke="#1a1a1a" stroke-width="2.4" stroke-linejoin="round"/>
<polyline points="769.6,723.6 770.4,724.9 771.2,725.6 772.0,726.3 772.8,727.1 773.6,727.6 774.4,727.1 775.2,727.4 776.0,727.8 776.8,727.0 777.6,726.5 778.4,726.2 779.2,726.1 780.0,724.9 780.8,724.6 781.6,724.0 782.4,724.1 783.2,724.6 784.0,724.7 784.8,724.0 785.6,723.8 786.4,723.4 787.2,724.2 788.0,724.0 788.8,724.1 789.6,723.9 790.4,724.4 791.2,724.3 792.0,724.2 792.8,724.7 793.6,724.1 794.4,724.1 795.2,724.7 796.0,723.9 796.8,724.3 797.6,725.0 798.4,724.2 799.2,723.8 800.0,724.1 800.8,724.0 801.6,723.5 802.4,724.3 803.2,723.7 804.0,724.1 804.8,724.1 805.6,723.8 806.4,724.1 807.2,724.1 808.0,724.3 808.8,724.2 809.6,724.2 810.4,724.3 811.2,723.7 812.0,724.3 812.8,724.0 813.6,724.1 814.4,723.7 815.2,723.3 816.0,723.8 816.8,723.8 817.6,724.1 818.4,723.2 819.2,723.9 820.0,723.9 820.8,724.0 821.6,724.2 822.4,724.4 823.2,723.7 824.0,724.5 824.8,723.6 825.6,723.2 826.4,723.8 827.2,723.9 828.0,724.1 828.8,723.6 829.6,723.6 830.4,724.0 831.2,723.8 832.0,723.3 832.8,724.1 833.6,723.8 834.4,723.3 835.2,723.4 836.0,723.1 836.8,724.1 837.6,723.4 838.4,723.2 839.2,724.0 840.0,723.7 840.8,723.5 841.6,723.4 842.4,723.3 843.2,723.4 844.0,723.4 844.8,723.7 845.6,723.1 846.4,723.4 847.2,723.4 848.0,723.3 848.8,723.2 849.6,723.4 850.4,723.1 851.2,723.1 852.0,723.2 852.8,723.4 853.6,723.3 854.4,723.4 855.2,723.5 856.0,723.3 856.8,723.5 857.6,722.9 858.4,723.3 859.2,723.4 860.0,722.6 860.8,723.2 861.6,723.2 862.4,723.6 863.2,722.8 864.0,722.5 864.8,722.6 865.6,722.2 866.4,723.2 867.2,722.9 868.0,722.9 868.8,723.1 869.6,722.9 870.4,722.8 871.2,722.5 872.0,722.4 872.8,723.0 873.6,722.0 874.4,723.0 875.2,722.6 876.0,722.5 876.8,722.3 877.6,722.0 878.4,722.2 879.2,722.5 880.0,722.0 880.8,722.2 881.6,722.2 882.4,721.8 883.2,722.3 884.0,721.8 884.8,722.4 885.6,722.2 886.4,722.6 887.2,722.2 888.0,722.0 888.8,722.0 889.6,722.1 890.4,722.0 891.2,721.9 892.0,721.8 892.8,722.1 893.6,722.6 894.4,722.1 895.2,721.7 896.0,721.8 896.8,722.2 897.6,722.0 898.4,721.3 899.2,721.5 900.0,721.6 900.8,721.4 901.6,721.3 902.4,721.0 903.2,721.6 904.0,721.4 904.8,721.1 905.6,721.2 906.4,721.5 907.2,721.7 908.0,721.3 908.8,721.4 909.6,720.9 910.4,721.1 911.2,721.2 912.0,720.8 912.8,721.0 913.6,721.0 914.4,721.0 915.2,720.9 916.0,720.6 916.8,720.4 917.6,720.9 918.4,721.1 919.2,720.6 920.0,720.7 920.8,720.2 921.6,721.1 922.4,720.5 923.2,720.7 924.0,719.9 924.8,720.7 925.6,720.0 926.4,720.1 927.2,720.6 928.0,720.5 928.8,720.1 929.6,720.2 930.4,720.1 931.2,720.2 932.0,720.3 932.8,720.1 933.6,720.5 934.4,720.3 935.2,720.3 936.0,720.3 936.8,720.2 937.6,719.9 938.4,719.8 939.2,719.6 940.0,719.7 940.8,719.6 941.6,719.3 942.4,719.6 943.2,719.0 944.0,719.4 944.8,719.5 945.6,719.3 946.4,719.2 947.2,719.5 948.0,719.2 948.8,718.8 949.6,719.1 950.4,718.9 951.2,719.0 952.0,719.0 952.8,719.2 953.6,719.0 954.4,718.4 955.2,718.7 956.0,718.4 956.8,719.1 957.6,718.8 958.4,719.3 959.2,718.9 960.0,718.5 960.8,718.4 961.6,718.6 962.4,718.1 963.2,718.8 964.0,718.2 964.8,717.8 965.6,718.4 966.4,718.1 967.2,718.2 968.0,718.0 968.8,717.9 969.6,718.4 970.4,718.3 971.2,717.8 972.0,718.0 972.8,717.7 973.6,717.7 974.4,717.9 975.2,717.8 976.0,717.1 976.8,717.2 977.6,717.4 978.4,717.2 979.2,717.3 980.0,717.2 980.8,717.6 981.6,716.7 982.4,717.0 983.2,716.9 984.0,717.2 984.8,716.9 985.6,717.0 986.4,716.9 987.2,716.8 988.0,717.0 988.8,716.2 989.6,716.6 990.4,716.4 991.2,716.6 992.0,716.3 992.8,716.6 993.6,716.1 994.4,716.0 995.2,716.8 996.0,715.8 996.8,716.3 997.6,716.3 998.4,715.8 999.2,715.9 1000.0,715.7 1000.8,716.1 1001.6,716.2 1002.4,715.8 1003.2,715.9 1004.0,715.5 1004.8,715.3 1005.6,715.2 1006.4,715.4 1007.2,715.6 1008.0,715.3 1008.8,714.9 1009.6,714.8 1010.4,714.3 1011.2,714.9 1012.0,715.4 1012.8,714.8 1013.6,714.7 1014.4,715.1 1015.2,714.4 1016.0,714.2 1016.8,714.4 1017.6,715.0 1018.4,714.9 1019.2,714.1 1020.0,714.8 1020.8,714.2 1021.6,714.1 1022.4,714.1 1023.2,713.7 1024.0,714.0 1024.8,713.9 1025.6,713.8 1026.4,713.8 1027.2,713.6 1028.0,713.8 1028.8,713.9 1029.6,713.3 1030.4,713.9 1031.2,713.2 1032.0,714.0 1032.8,713.1 1033.6,712.7 1034.4,713.1 1035.2,712.9 1036.0,713.1 1036.8,712.7 1037.6,712.8 1038.4,712.5 1039.2,713.0 1040.0,712.7 1040.8,712.4 1041.6,712.7 1042.4,712.7 1043.2,712.3 1044.0,712.2 1044.8,712.4 1045.6,711.8 1046.4,711.8 1047.2,712.2 1048.0,711.4 1048.8,711.6 1049.6,712.1 1050.4,711.9 1051.2,711.6 1052.0,711.5 1052.8,711.7 1053.6,710.9 1054.4,711.7 1055.2,711.3 1056.0,711.2 1056.8,711.7 1057.6,710.7 1058.4,710.6 1059.2,710.8 1060.0,710.9 1060.8,710.7 1061.6,710.8 1062.4,710.4 1063.2,710.5 1064.0,710.5 1064.8,711.1 1065.6,710.1 1066.4,710.0 1067.2,709.9 1068.0,709.6 1068.8,709.9 1069.6,709.7 1070.4,709.6 1071.2,710.0 1072.0,709.6 1072.8,709.7 1073.6,709.0 1074.4,709.6 1075.2,709.2 1076.0,708.7 1076.8,708.9 1077.6,709.2 1078.4,709.2 1079.2,709.3 1080.0,708.9 1080.8,708.4 1081.6,709.0 1082.4,708.6 1083.2,708.6 1084.0,709.0 1084.8,708.1 1085.6,708.0 1086.4,708.0 1087.2,708.6 1088.0,708.3 1088.8,708.0 1089.6,708.0 1090.4,708.0 1091.2,707.5 1092.0,707.8 1092.8,707.9 1093.6,706.8 1094.4,707.3 1095.2,707.1 1096.0,707.1 1096.8,706.6 1097.6,706.5 1098.4,707.0" fill="none" stroke="#1a1a1a" stroke-width="2.4" stroke-linejoin="round"/>
<text x="1102.8" y="530.4" font-size="19" text-anchor="start">b</text>
<text x="1103.7" y="711.0" font-size="19" text-anchor="start">a</text>
<line x1="1314.2" y1="523.7" x2="1314.2" y2="787.7" stroke="#111" stroke-width="2.2"/>
<line x1="1309.7" y1="523.7" x2="1314.2" y2="523.7" stroke="#111" stroke-width="2"/>
<text x="1307.2" y="530.2" font-size="19.5" text-anchor="end">400</text>
<line x1="1309.7" y1="567.7" x2="1314.2" y2="567.7" stroke="#111" stroke-width="2"/>
<text x="1307.2" y="574.2" font-size="19.5" text-anchor="end">300</text>
<line x1="1309.7" y1="611.7" x2="1314.2" y2="611.7" stroke="#111" stroke-width="2"/>
<text x="1307.2" y="618.2" font-size="19.5" text-anchor="end">200</text>
<line x1="1309.7" y1="655.7" x2="1314.2" y2="655.7" stroke="#111" stroke-width="2"/>
<text x="1307.2" y="662.2" font-size="19.5" text-anchor="end">100</text>
<line x1="1309.7" y1="743.7" x2="1314.2" y2="743.7" stroke="#111" stroke-width="2"/>
<text x="1307.2" y="750.2" font-size="19.5" text-anchor="end">-100</text>
<line x1="1309.7" y1="787.7" x2="1314.2" y2="787.7" stroke="#111" stroke-width="2"/>
<text x="1307.2" y="794.2" font-size="19.5" text-anchor="end">-200</text>
<line x1="1149.5" y1="699.7" x2="1478.4" y2="699.7" stroke="#111" stroke-width="2.2"/>
<line x1="1149.5" y1="699.7" x2="1149.5" y2="704.2" stroke="#111" stroke-width="2"/>
<line x1="1232.0" y1="699.7" x2="1232.0" y2="704.2" stroke="#111" stroke-width="2"/>
<text x="1233.7" y="721.7" font-size="19.5" text-anchor="middle">-50</text>
<line x1="1396.4" y1="699.7" x2="1396.4" y2="704.2" stroke="#111" stroke-width="2"/>
<text x="1396.4" y="721.7" font-size="19.5" text-anchor="middle">50</text>
<line x1="1478.6" y1="699.7" x2="1478.6" y2="704.2" stroke="#111" stroke-width="2"/>
<text x="1478.6" y="721.7" font-size="19.5" text-anchor="middle">100</text>
<text x="1403.0" y="741.5" font-size="24" text-anchor="start">V (mV)</text>
<text transform="translate(1267.2,605.4) rotate(-90)" font-size="24.5" text-anchor="start">I (pA)</text>
<text x="1152.7" y="694.5" font-size="19.5" text-anchor="start">-100</text>
<text x="1320.0" y="721.7" font-size="19.5" text-anchor="start">0</text>
<polyline points="1149.8,716.8 1150.6,715.5 1151.4,714.7 1152.2,715.9 1153.0,715.9 1153.8,715.7 1154.6,715.0 1155.4,714.6 1156.2,710.8 1157.0,711.4 1157.8,711.9 1158.6,711.4 1159.4,712.5 1160.2,713.2 1161.0,712.7 1161.8,709.9 1162.6,710.2 1163.4,710.7 1164.2,708.8 1165.0,710.6 1165.8,708.8 1166.6,707.0 1167.4,709.9 1168.2,706.6 1169.0,706.0 1169.8,707.0 1170.6,706.9 1171.4,707.4 1172.2,707.5 1173.0,705.4 1173.8,706.2 1174.6,704.9 1175.4,704.8 1176.2,703.7 1177.0,704.9 1177.8,706.0 1178.6,701.1 1179.4,703.1 1180.2,704.0 1181.0,703.6 1181.8,703.8 1182.6,704.7 1183.4,704.5 1184.2,703.9 1185.0,703.3 1185.8,700.5 1186.6,699.5 1187.4,702.2 1188.2,701.8 1189.0,700.0 1189.8,701.0 1190.6,701.6 1191.4,699.4 1192.2,700.5 1193.0,700.8 1193.8,700.1 1194.6,699.4 1195.4,699.1 1196.2,699.1 1197.0,699.4 1197.8,700.8 1198.6,701.5 1199.4,700.7 1200.2,701.0 1201.0,700.3 1201.8,700.1 1202.6,700.9 1203.4,701.5 1204.2,700.1 1205.0,701.1 1205.8,700.0 1206.6,697.6 1207.4,699.6 1208.2,699.6 1209.0,699.5 1209.8,698.2 1210.6,700.4 1211.4,699.2 1212.2,698.8 1213.0,696.4 1213.8,696.3 1214.6,698.5 1215.4,699.5 1216.2,696.3 1217.0,697.1 1217.8,694.1 1218.6,696.1 1219.4,696.2 1220.2,699.0 1221.0,697.6 1221.8,697.8 1222.6,699.0 1223.4,697.4 1224.2,697.8 1225.0,698.8 1225.8,699.4 1226.6,699.0 1227.4,695.3 1228.2,696.0 1229.0,694.5 1229.8,697.5 1230.6,696.3 1231.4,695.7 1232.2,698.8 1233.0,697.7 1233.8,696.0 1234.6,696.2 1235.4,693.7 1236.2,694.8 1237.0,693.9 1237.8,696.9 1238.6,695.5 1239.4,695.8 1240.2,694.5 1241.0,694.5 1241.8,692.4 1242.6,692.4 1243.4,690.9 1244.2,692.4 1245.0,692.8 1245.8,692.3 1246.6,693.6 1247.4,692.1 1248.2,688.6 1249.0,689.7 1249.8,687.8 1250.6,687.9 1251.4,687.9 1252.2,688.9 1253.0,690.2 1253.8,687.4 1254.6,689.5 1255.4,686.5 1256.2,688.7 1257.0,688.6 1257.8,686.4 1258.6,685.9 1259.4,686.5 1260.2,685.6 1261.0,685.3 1261.8,685.2 1262.6,683.8 1263.4,681.2 1264.2,683.8 1265.0,681.9 1265.8,682.8 1266.6,684.7 1267.4,684.7 1268.2,685.8 1269.0,682.9 1269.8,686.9 1270.6,684.4 1271.4,683.9 1272.2,688.3 1273.0,685.4 1273.8,685.3 1274.6,686.3 1275.4,684.1 1276.2,684.9 1277.0,683.4 1277.8,682.2 1278.6,683.0 1279.4,681.1 1280.2,684.6 1281.0,680.4 1281.8,683.7 1282.6,684.1 1283.4,683.5 1284.2,682.4 1285.0,680.3 1285.8,683.5 1286.6,679.5 1287.4,680.3 1288.2,678.5 1289.0,681.7 1289.8,677.9 1290.6,681.2 1291.4,681.6 1292.2,679.9 1293.0,677.0 1293.8,678.1 1294.6,676.8 1295.4,677.4 1296.2,677.4 1297.0,677.6 1297.8,675.6 1298.6,675.9 1299.4,675.8 1300.2,675.6 1301.0,673.8 1301.8,676.4 1302.6,675.0 1303.4,674.2 1304.2,673.9 1305.0,673.9 1305.8,669.5 1306.6,673.5 1307.4,670.1 1308.2,671.8 1309.0,671.8 1309.8,673.2 1310.6,672.9 1311.4,674.1 1312.2,672.2 1313.0,673.6 1313.8,673.5 1314.6,673.4 1315.4,674.7 1316.2,672.2 1317.0,675.0 1317.8,672.6 1318.6,672.0 1319.4,671.2 1320.2,672.2 1321.0,671.2 1321.8,672.0 1322.6,671.3 1323.4,671.5 1324.2,669.2 1325.0,668.1 1325.8,667.1 1326.6,669.4 1327.4,669.0 1328.2,667.2 1329.0,670.3 1329.8,669.2 1330.6,667.7 1331.4,670.8 1332.2,668.3 1333.0,666.6 1333.8,666.1 1334.6,665.3 1335.4,667.1 1336.2,668.0 1337.0,669.3 1337.8,666.5 1338.6,665.1 1339.4,666.2 1340.2,664.7 1341.0,665.6 1341.8,665.2 1342.6,664.7 1343.4,666.3 1344.2,665.0 1345.0,662.6 1345.8,664.9 1346.6,664.2 1347.4,662.7 1348.2,663.7 1349.0,665.1 1349.8,663.4 1350.6,664.2 1351.4,665.0 1352.2,662.6 1353.0,663.0 1353.8,663.0 1354.6,663.0 1355.4,662.8 1356.2,664.3 1357.0,665.2 1357.8,662.7 1358.6,664.8 1359.4,667.1 1360.2,665.8 1361.0,665.6 1361.8,664.3 1362.6,663.2 1363.4,663.6 1364.2,666.8 1365.0,663.9 1365.8,664.2 1366.6,663.5 1367.4,664.1 1368.2,664.4 1369.0,663.2 1369.8,662.5 1370.6,662.6 1371.4,662.7 1372.2,663.0 1373.0,662.6 1373.8,662.5 1374.6,661.5 1375.4,662.9 1376.2,663.3 1377.0,661.3 1377.8,659.5 1378.6,660.2 1379.4,657.5 1380.2,655.9 1381.0,657.7 1381.8,657.6 1382.6,656.4 1383.4,655.8 1384.2,657.4 1385.0,656.9 1385.8,656.5 1386.6,657.5 1387.4,656.0 1388.2,654.9 1389.0,654.5 1389.8,655.6 1390.6,657.5 1391.4,654.6 1392.2,654.1 1393.0,655.6 1393.8,655.7 1394.6,655.2 1395.4,655.4 1396.2,652.2 1397.0,651.9 1397.8,653.0 1398.6,652.6 1399.4,652.7 1400.2,652.4 1401.0,651.5 1401.8,651.2 1402.6,652.5 1403.4,651.5 1404.2,651.0 1405.0,651.0 1405.8,651.9 1406.6,650.7 1407.4,650.7 1408.2,650.5 1409.0,647.0 1409.8,648.7 1410.6,648.8 1411.4,646.6 1412.2,646.6 1413.0,644.5 1413.8,645.1 1414.6,645.8 1415.4,647.4 1416.2,643.3 1417.0,644.5 1417.8,642.5 1418.6,644.9 1419.4,644.2 1420.2,645.4 1421.0,645.5 1421.8,647.3 1422.6,647.3 1423.4,648.0 1424.2,649.8 1425.0,649.0 1425.8,649.0 1426.6,647.3 1427.4,646.9 1428.2,643.3 1429.0,645.5 1429.8,645.6 1430.6,643.5 1431.4,642.5 1432.2,643.5 1433.0,643.6 1433.8,642.9 1434.6,645.2 1435.4,645.2 1436.2,641.8 1437.0,642.7 1437.8,638.2 1438.6,640.7 1439.4,641.9 1440.2,638.1 1441.0,637.5 1441.8,634.8 1442.6,630.0 1443.4,631.7 1444.2,632.9 1445.0,628.7 1445.8,627.5 1446.6,628.5 1447.4,627.8 1448.2,628.5 1449.0,627.6 1449.8,627.8 1450.6,628.7 1451.4,626.3 1452.2,628.3 1453.0,628.5 1453.8,627.9 1454.6,626.8 1455.4,627.0 1456.2,625.7 1457.0,626.3 1457.8,626.1 1458.6,623.9 1459.4,626.5 1460.2,626.0 1461.0,627.8 1461.8,626.4 1462.6,626.4 1463.4,625.9 1464.2,626.3 1465.0,627.2 1465.8,626.3 1466.6,626.6 1467.4,625.5 1468.2,624.6 1469.0,623.1 1469.8,623.1 1470.6,623.3 1471.4,624.3 1472.2,622.6 1473.0,624.8 1473.8,623.1 1474.6,623.4 1475.4,624.7 1476.2,620.8 1477.0,622.9 1477.8,623.3 1478.6,620.6" fill="none" stroke="#1a1a1a" stroke-width="2.4" stroke-linejoin="round"/>
<polyline points="1149.8,712.4 1150.6,711.2 1151.4,710.5 1152.2,710.1 1153.0,708.3 1153.8,708.6 1154.6,710.4 1155.4,709.0 1156.2,708.8 1157.0,708.6 1157.8,707.2 1158.6,710.0 1159.4,707.8 1160.2,707.4 1161.0,707.1 1161.8,704.7 1162.6,704.5 1163.4,705.7 1164.2,705.4 1165.0,708.6 1165.8,704.1 1166.6,704.5 1167.4,705.9 1168.2,706.2 1169.0,706.3 1169.8,702.1 1170.6,703.7 1171.4,705.3 1172.2,703.5 1173.0,705.8 1173.8,703.4 1174.6,704.2 1175.4,703.9 1176.2,704.7 1177.0,703.9 1177.8,702.3 1178.6,702.7 1179.4,698.8 1180.2,703.4 1181.0,701.7 1181.8,700.5 1182.6,702.8 1183.4,702.8 1184.2,701.3 1185.0,700.0 1185.8,700.9 1186.6,702.0 1187.4,701.8 1188.2,699.3 1189.0,699.5 1189.8,700.0 1190.6,700.3 1191.4,698.4 1192.2,699.5 1193.0,699.1 1193.8,699.6 1194.6,700.3 1195.4,701.2 1196.2,704.3 1197.0,701.2 1197.8,699.4 1198.6,699.7 1199.4,701.1 1200.2,699.7 1201.0,699.2 1201.8,697.2 1202.6,698.6 1203.4,698.8 1204.2,698.0 1205.0,696.0 1205.8,697.5 1206.6,698.1 1207.4,700.2 1208.2,697.2 1209.0,697.6 1209.8,699.6 1210.6,696.5 1211.4,698.9 1212.2,698.4 1213.0,699.2 1213.8,701.0 1214.6,697.2 1215.4,698.8 1216.2,696.2 1217.0,694.2 1217.8,695.4 1218.6,695.9 1219.4,697.5 1220.2,695.1 1221.0,697.2 1221.8,694.8 1222.6,696.4 1223.4,695.9 1224.2,697.5 1225.0,695.8 1225.8,695.2 1226.6,697.5 1227.4,697.6 1228.2,698.5 1229.0,697.6 1229.8,695.5 1230.6,698.5 1231.4,696.1 1232.2,696.0 1233.0,695.3 1233.8,694.8 1234.6,695.2 1235.4,694.0 1236.2,696.0 1237.0,691.7 1237.8,694.8 1238.6,697.1 1239.4,695.0 1240.2,694.4 1241.0,693.4 1241.8,696.0 1242.6,694.2 1243.4,695.1 1244.2,694.5 1245.0,693.8 1245.8,693.0 1246.6,692.7 1247.4,694.5 1248.2,693.7 1249.0,692.4 1249.8,691.2 1250.6,693.0 1251.4,692.3 1252.2,691.0 1253.0,692.4 1253.8,693.4 1254.6,691.9 1255.4,689.9 1256.2,689.6 1257.0,692.1 1257.8,688.8 1258.6,687.7 1259.4,690.1 1260.2,691.1 1261.0,690.3 1261.8,689.4 1262.6,689.3 1263.4,688.8 1264.2,689.6 1265.0,689.5 1265.8,687.0 1266.6,689.2 1267.4,688.3 1268.2,690.4 1269.0,688.4 1269.8,687.5 1270.6,688.9 1271.4,689.0 1272.2,690.5 1273.0,686.9 1273.8,688.1 1274.6,688.4 1275.4,689.0 1276.2,688.0 1277.0,686.1 1277.8,686.1 1278.6,688.2 1279.4,690.1 1280.2,687.8 1281.0,687.3 1281.8,687.5 1282.6,685.8 1283.4,687.2 1284.2,687.5 1285.0,687.6 1285.8,688.5 1286.6,687.9 1287.4,686.1 1288.2,686.7 1289.0,688.8 1289.8,687.1 1290.6,688.1 1291.4,688.1 1292.2,686.4 1293.0,684.5 1293.8,684.5 1294.6,685.4 1295.4,685.4 1296.2,685.6 1297.0,685.0 1297.8,684.8 1298.6,684.0 1299.4,685.6 1300.2,684.3 1301.0,684.6 1301.8,683.2 1302.6,686.5 1303.4,686.9 1304.2,685.1 1305.0,684.8 1305.8,685.3 1306.6,686.0 1307.4,684.9 1308.2,687.7 1309.0,683.1 1309.8,683.5 1310.6,685.6 1311.4,686.7 1312.2,684.9 1313.0,685.6 1313.8,686.8 1314.6,684.5 1315.4,680.7 1316.2,683.7 1317.0,685.0 1317.8,681.4 1318.6,682.9 1319.4,682.1 1320.2,684.7 1321.0,683.4 1321.8,684.3 1322.6,682.8 1323.4,683.8 1324.2,684.0 1325.0,681.6 1325.8,684.2 1326.6,681.7 1327.4,681.2 1328.2,681.9 1329.0,682.3 1329.8,683.3 1330.6,682.8 1331.4,680.9 1332.2,678.4 1333.0,679.6 1333.8,680.1 1334.6,680.9 1335.4,679.6 1336.2,681.9 1337.0,683.1 1337.8,680.5 1338.6,679.3 1339.4,681.7 1340.2,680.8 1341.0,682.3 1341.8,679.3 1342.6,681.5 1343.4,681.5 1344.2,679.9 1345.0,680.6 1345.8,679.4 1346.6,678.5 1347.4,682.4 1348.2,680.7 1349.0,680.3 1349.8,679.4 1350.6,678.6 1351.4,679.4 1352.2,678.7 1353.0,678.3 1353.8,679.2 1354.6,679.2 1355.4,679.4 1356.2,677.0 1357.0,679.3 1357.8,679.0 1358.6,676.5 1359.4,677.3 1360.2,676.1 1361.0,676.6 1361.8,676.5 1362.6,675.7 1363.4,679.1 1364.2,676.2 1365.0,676.3 1365.8,674.6 1366.6,674.5 1367.4,676.2 1368.2,673.7 1369.0,676.6 1369.8,673.8 1370.6,677.4 1371.4,673.6 1372.2,672.9 1373.0,673.3 1373.8,672.8 1374.6,672.5 1375.4,673.9 1376.2,674.3 1377.0,673.2 1377.8,671.9 1378.6,672.9 1379.4,673.5 1380.2,672.1 1381.0,671.3 1381.8,672.4 1382.6,672.6 1383.4,671.6 1384.2,673.8 1385.0,672.9 1385.8,672.6 1386.6,671.1 1387.4,669.4 1388.2,670.1 1389.0,670.1 1389.8,670.7 1390.6,670.4 1391.4,668.8 1392.2,669.6 1393.0,670.0 1393.8,669.4 1394.6,672.1 1395.4,669.7 1396.2,668.7 1397.0,671.4 1397.8,670.6 1398.6,671.1 1399.4,671.1 1400.2,672.5 1401.0,671.6 1401.8,671.7 1402.6,672.3 1403.4,671.0 1404.2,669.9 1405.0,671.7 1405.8,671.3 1406.6,670.0 1407.4,669.1 1408.2,666.1 1409.0,669.4 1409.8,668.0 1410.6,667.2 1411.4,668.3 1412.2,667.9 1413.0,670.9 1413.8,670.3 1414.6,667.4 1415.4,669.3 1416.2,669.8 1417.0,670.0 1417.8,671.8 1418.6,670.2 1419.4,670.9 1420.2,671.0 1421.0,671.1 1421.8,670.8 1422.6,670.5 1423.4,667.5 1424.2,666.6 1425.0,668.4 1425.8,669.4 1426.6,668.2 1427.4,666.9 1428.2,668.6 1429.0,667.4 1429.8,669.4 1430.6,666.7 1431.4,669.1 1432.2,666.4 1433.0,669.2 1433.8,668.4 1434.6,667.5 1435.4,667.3 1436.2,664.8 1437.0,665.3 1437.8,665.2 1438.6,666.7 1439.4,667.3 1440.2,666.7 1441.0,667.6 1441.8,663.5 1442.6,666.5 1443.4,664.9 1444.2,665.0 1445.0,667.6 1445.8,666.9 1446.6,667.6 1447.4,666.2 1448.2,664.2 1449.0,664.0 1449.8,661.5 1450.6,661.2 1451.4,661.4 1452.2,662.5 1453.0,663.5 1453.8,660.9 1454.6,657.9 1455.4,659.3 1456.2,658.9 1457.0,659.7 1457.8,660.8 1458.6,660.9 1459.4,659.6 1460.2,660.4 1461.0,659.7 1461.8,657.3 1462.6,658.9 1463.4,661.5 1464.2,659.1 1465.0,661.2 1465.8,660.7 1466.6,657.6 1467.4,659.4 1468.2,660.0 1469.0,661.4 1469.8,658.6 1470.6,661.3 1471.4,660.4 1472.2,658.1 1473.0,659.6 1473.8,660.6 1474.6,661.5 1475.4,658.7 1476.2,658.6 1477.0,660.4 1477.8,659.7 1478.6,659.3" fill="none" stroke="#1a1a1a" stroke-width="2.4" stroke-linejoin="round"/>
<text x="1484.7" y="624.8" font-size="19" text-anchor="start">b</text>
<text x="1484.7" y="659.8" font-size="19" text-anchor="start">a</text>
<line x1="1610.5" y1="65.8" x2="1610.5" y2="372.8" stroke="#111" stroke-width="2.2"/>
<line x1="1605.0" y1="371.8" x2="1895.0" y2="371.8" stroke="#111" stroke-width="2.4"/>
<line x1="1605.5" y1="371.8" x2="1610.5" y2="371.8" stroke="#111" stroke-width="2"/>
<text x="1601.4" y="377.9" font-size="19" text-anchor="end">0</text>
<line x1="1605.5" y1="341.3" x2="1610.5" y2="341.3" stroke="#111" stroke-width="2"/>
<line x1="1605.5" y1="310.8" x2="1610.5" y2="310.8" stroke="#111" stroke-width="2"/>
<text x="1601.4" y="316.9" font-size="19" text-anchor="end">10</text>
<line x1="1605.5" y1="280.3" x2="1610.5" y2="280.3" stroke="#111" stroke-width="2"/>
<line x1="1605.5" y1="249.8" x2="1610.5" y2="249.8" stroke="#111" stroke-width="2"/>
<text x="1601.4" y="255.9" font-size="19" text-anchor="end">20</text>
<line x1="1605.5" y1="219.3" x2="1610.5" y2="219.3" stroke="#111" stroke-width="2"/>
<line x1="1605.5" y1="188.8" x2="1610.5" y2="188.8" stroke="#111" stroke-width="2"/>
<text x="1601.4" y="194.9" font-size="19" text-anchor="end">30</text>
<line x1="1605.5" y1="158.3" x2="1610.5" y2="158.3" stroke="#111" stroke-width="2"/>
<line x1="1605.5" y1="127.8" x2="1610.5" y2="127.8" stroke="#111" stroke-width="2"/>
<text x="1601.4" y="133.9" font-size="19" text-anchor="end">40</text>
<line x1="1605.5" y1="97.3" x2="1610.5" y2="97.3" stroke="#111" stroke-width="2"/>
<line x1="1605.5" y1="66.8" x2="1610.5" y2="66.8" stroke="#111" stroke-width="2"/>
<text x="1601.4" y="72.9" font-size="19" text-anchor="end">50</text>
<rect x="1621.7" y="349.3" width="21.2" height="22.5" fill="#fff" stroke="#111" stroke-width="2"/>
<rect x="1648.8" y="323.4" width="21.9" height="48.4" fill="#000" stroke="#222" stroke-width="2"/>
<rect x="1692.6" y="345.7" width="21.1" height="26.1" fill="#fff" stroke="#111" stroke-width="2"/>
<rect x="1720.3" y="270.3" width="21.0" height="101.5" fill="#000" stroke="#222" stroke-width="2"/>
<rect x="1763.8" y="343.5" width="20.9" height="28.3" fill="#fff" stroke="#111" stroke-width="2"/>
<rect x="1791.0" y="207.5" width="22.1" height="164.3" fill="#000" stroke="#222" stroke-width="2"/>
<rect x="1835.2" y="352.1" width="20.8" height="19.7" fill="#fff" stroke="#111" stroke-width="2"/>
<rect x="1862.6" y="331.9" width="20.7" height="39.9" fill="#000" stroke="#222" stroke-width="2"/>
<line x1="1632.6" y1="345.7" x2="1632.6" y2="352.4" stroke="#222" stroke-width="2"/>
<line x1="1628.6" y1="345.7" x2="1636.6" y2="345.7" stroke="#222" stroke-width="2"/>
<line x1="1628.6" y1="352.4" x2="1636.6" y2="352.4" stroke="#222" stroke-width="2"/>
<line x1="1660.0" y1="314.9" x2="1660.0" y2="331.3" stroke="#3a3a3a" stroke-width="2"/>
<line x1="1655.8" y1="331.3" x2="1664.3" y2="331.3" stroke="#3a3a3a" stroke-width="2"/>
<line x1="1660.0" y1="314.9" x2="1660.0" y2="322.4" stroke="#111" stroke-width="2"/>
<line x1="1655.8" y1="314.9" x2="1664.3" y2="314.9" stroke="#111" stroke-width="2"/>
<line x1="1703.5" y1="342.0" x2="1703.5" y2="348.7" stroke="#222" stroke-width="2"/>
<line x1="1699.5" y1="342.0" x2="1707.5" y2="342.0" stroke="#222" stroke-width="2"/>
<line x1="1699.5" y1="348.7" x2="1707.5" y2="348.7" stroke="#222" stroke-width="2"/>
<line x1="1731.1" y1="261.8" x2="1731.1" y2="278.3" stroke="#3a3a3a" stroke-width="2"/>
<line x1="1726.8" y1="278.3" x2="1735.4" y2="278.3" stroke="#3a3a3a" stroke-width="2"/>
<line x1="1731.1" y1="261.8" x2="1731.1" y2="269.3" stroke="#111" stroke-width="2"/>
<line x1="1726.8" y1="261.8" x2="1735.4" y2="261.8" stroke="#111" stroke-width="2"/>
<line x1="1774.5" y1="340.2" x2="1774.5" y2="346.3" stroke="#222" stroke-width="2"/>
<line x1="1770.5" y1="340.2" x2="1778.5" y2="340.2" stroke="#222" stroke-width="2"/>
<line x1="1770.5" y1="346.3" x2="1778.5" y2="346.3" stroke="#222" stroke-width="2"/>
<line x1="1802.3" y1="199.0" x2="1802.3" y2="215.4" stroke="#3a3a3a" stroke-width="2"/>
<line x1="1798.0" y1="215.4" x2="1806.6" y2="215.4" stroke="#3a3a3a" stroke-width="2"/>
<line x1="1802.3" y1="199.0" x2="1802.3" y2="206.5" stroke="#111" stroke-width="2"/>
<line x1="1798.0" y1="199.0" x2="1806.6" y2="199.0" stroke="#111" stroke-width="2"/>
<line x1="1845.9" y1="348.7" x2="1845.9" y2="354.8" stroke="#222" stroke-width="2"/>
<line x1="1841.9" y1="348.7" x2="1849.9" y2="348.7" stroke="#222" stroke-width="2"/>
<line x1="1841.9" y1="354.8" x2="1849.9" y2="354.8" stroke="#222" stroke-width="2"/>
<line x1="1873.2" y1="323.4" x2="1873.2" y2="339.9" stroke="#3a3a3a" stroke-width="2"/>
<line x1="1868.9" y1="339.9" x2="1877.5" y2="339.9" stroke="#3a3a3a" stroke-width="2"/>
<line x1="1873.2" y1="323.4" x2="1873.2" y2="330.9" stroke="#111" stroke-width="2"/>
<line x1="1868.9" y1="323.4" x2="1877.5" y2="323.4" stroke="#111" stroke-width="2"/>
<line x1="1622.3" y1="307.3" x2="1672.2" y2="307.3" stroke="#111" stroke-width="2.3"/>
<text x="1646.2" y="309.5" font-size="21" text-anchor="middle">*</text>
<line x1="1691.9" y1="252.9" x2="1741.6" y2="252.9" stroke="#111" stroke-width="2.3"/>
<text x="1716.3" y="255.3" font-size="21" text-anchor="middle">*</text>
<line x1="1766.2" y1="189.9" x2="1816.2" y2="189.9" stroke="#111" stroke-width="2.3"/>
<text x="1790.0" y="191.8" font-size="21" text-anchor="middle">*</text>
<line x1="1836.0" y1="313.4" x2="1886.0" y2="313.4" stroke="#111" stroke-width="2.3"/>
<text x="1861.0" y="315.3" font-size="21" text-anchor="middle">*</text>
<rect x="1614.8" y="69.7" width="15.6" height="15.4" fill="#fff" stroke="#111" stroke-width="1.8"/>
<rect x="1613.9" y="93.2" width="17.4" height="17.6" fill="#000"/>
<text x="1641.6" y="83.2" font-size="19.4" text-anchor="start">control</text>
<text x="1637.4" y="109.4" font-size="19.4" text-anchor="start">+herbal component</text>
<text transform="translate(1568.6,259.2) rotate(-90)" font-size="24.2" text-anchor="start">I (pA/pF)</text>
<text transform="translate(1646.6,391) rotate(-45)" font-size="24" text-anchor="end">KYN</text>
<text transform="translate(1718.7,391) rotate(-45)" font-size="24" text-anchor="end">TON</text>
<text transform="translate(1791.1,391) rotate(-45)" font-size="24" text-anchor="end">MSN</text>
<text transform="translate(1862.7,390.8) rotate(-45)" font-size="24" text-anchor="end">DIO</text>
<line x1="1651.0" y1="503.0" x2="1651.0" y2="753.0" stroke="#111" stroke-width="2.2"/>
<line x1="1647.0" y1="752.0" x2="1854.7" y2="752.0" stroke="#111" stroke-width="2.4"/>
<line x1="1646.5" y1="752.0" x2="1651.0" y2="752.0" stroke="#111" stroke-width="2"/>
<text x="1641.5" y="756.8" font-size="19.1" text-anchor="end">0</text>
<line x1="1646.5" y1="690.0" x2="1651.0" y2="690.0" stroke="#111" stroke-width="2"/>
<line x1="1646.5" y1="628.0" x2="1651.0" y2="628.0" stroke="#111" stroke-width="2"/>
<text x="1641.5" y="632.8" font-size="19.1" text-anchor="end">50</text>
<line x1="1646.5" y1="566.0" x2="1651.0" y2="566.0" stroke="#111" stroke-width="2"/>
<line x1="1646.5" y1="504.0" x2="1651.0" y2="504.0" stroke="#111" stroke-width="2"/>
<text x="1641.5" y="508.8" font-size="19.1" text-anchor="end">100</text>
<rect x="1660.0" y="634.4" width="40.1" height="117.6" fill="#222"/>
<line x1="1680.0" y1="634.4" x2="1680.0" y2="609.6" stroke="#111" stroke-width="2.2"/>
<line x1="1676.0" y1="609.6" x2="1684.0" y2="609.6" stroke="#111" stroke-width="2.2"/>
<rect x="1708.3" y="588.3" width="40.6" height="163.7" fill="#222"/>
<line x1="1728.6" y1="588.3" x2="1728.6" y2="568.5" stroke="#111" stroke-width="2.2"/>
<line x1="1724.6" y1="568.5" x2="1732.6" y2="568.5" stroke="#111" stroke-width="2.2"/>
<rect x="1757.0" y="620.6" width="40.5" height="131.4" fill="#222"/>
<line x1="1777.2" y1="620.6" x2="1777.2" y2="593.5" stroke="#111" stroke-width="2.2"/>
<line x1="1773.2" y1="593.5" x2="1781.2" y2="593.5" stroke="#111" stroke-width="2.2"/>
<rect x="1805.5" y="634.0" width="40.5" height="118.0" fill="#222"/>
<line x1="1825.8" y1="634.0" x2="1825.8" y2="618.8" stroke="#111" stroke-width="2.2"/>
<line x1="1821.8" y1="618.8" x2="1829.8" y2="618.8" stroke="#111" stroke-width="2.2"/>
<text transform="translate(1572.5,786.9) rotate(-90)" font-size="24.3" text-anchor="start">Recovery from the</text>
<text transform="translate(1596.1,685.0) rotate(-90)" font-size="24.4" text-anchor="start">peak currents (%)</text>
<text transform="translate(1679.3,769.8) rotate(-45)" font-size="24" text-anchor="end">KYN</text>
<text transform="translate(1730.3,769.3) rotate(-45)" font-size="24" text-anchor="end">TON</text>
<text transform="translate(1781.3,769.3) rotate(-45)" font-size="24" text-anchor="end">MSN</text>
<text transform="translate(1826.7,770.5) rotate(-45)" font-size="24" text-anchor="end">DIO</text>
</g>
</svg>
</body></html>
